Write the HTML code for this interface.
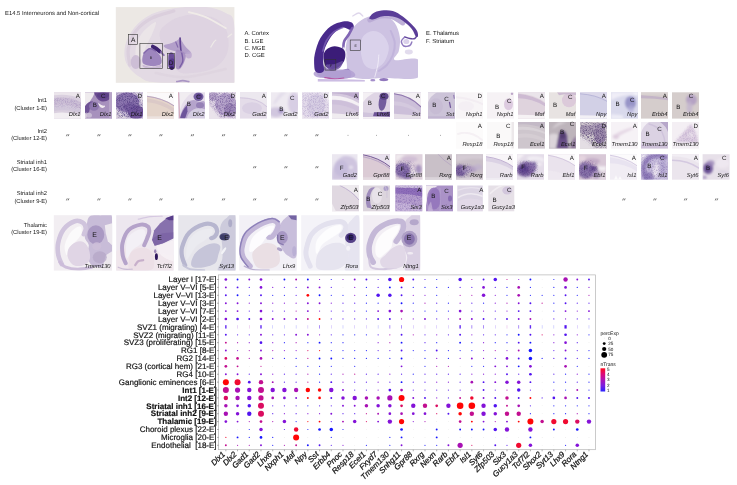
<!DOCTYPE html><html><head><meta charset="utf-8"><title>E14.5 Interneurons and Non-cortical</title>
<style>html,body{margin:0;padding:0;background:#fff;}svg{display:block;}text{font-family:"Liberation Sans",sans-serif;text-rendering:geometricPrecision;}</style></head><body>
<svg width="737" height="485" viewBox="0 0 737 485">
<defs>
<filter id="b1" x="-10%" y="-10%" width="120%" height="120%"><feGaussianBlur stdDeviation="0.7"/></filter>
<filter id="b2" x="-10%" y="-10%" width="120%" height="120%"><feGaussianBlur stdDeviation="1.2"/></filter>
<filter id="b3" x="-10%" y="-10%" width="120%" height="120%"><feGaussianBlur stdDeviation="2"/></filter>
<filter id="tb" x="0" y="0" width="100%" height="100%"><feGaussianBlur stdDeviation="0.25"/></filter>
<filter id="sp" x="0" y="0" width="100%" height="100%"><feGaussianBlur in="SourceGraphic" stdDeviation="1.6" result="sg"/><feTurbulence type="fractalNoise" baseFrequency="1.6" numOctaves="2" seed="3" result="n"/><feColorMatrix in="n" type="matrix" values="0 0 0 0 0  0 0 0 0 0  0 0 0 0 0  0 0 0 -3 1.75" result="m"/><feComposite in="sg" in2="m" operator="in"/><feGaussianBlur stdDeviation="0.45"/></filter>
<linearGradient id="cb" x1="0" y1="1" x2="0" y2="0"><stop offset="0" stop-color="#2a22ff"/><stop offset="0.25" stop-color="#7a1ee0"/><stop offset="0.5" stop-color="#ae12b4"/><stop offset="0.75" stop-color="#dc0878"/><stop offset="1" stop-color="#ff0a1e"/></linearGradient>
</defs>
<rect width="737" height="485" fill="#fff"/>
<g fill="#151515" opacity="0.999">
<text x="5" y="15.4" font-size="5.86">E14.5 Interneurons and Non-cortical</text>
<text x="244.4" y="35.4" font-size="5.9">A. Cortex</text>
<text x="244.4" y="42.5" font-size="5.9">B. LGE</text>
<text x="244.4" y="49.6" font-size="5.9">C. MGE</text>
<text x="244.4" y="56.7" font-size="5.9">D. CGE</text>
<text x="426" y="35.4" font-size="5.9">E. Thalamus</text>
<text x="426" y="42.5" font-size="5.9">F. Striatum</text>
<text x="47" y="102.1" font-size="5.76" text-anchor="end">Int1</text>
<text x="47" y="109.6" font-size="5.76" text-anchor="end">(Cluster 1-E)</text>
<text x="47" y="132.8" font-size="5.76" text-anchor="end">Int2</text>
<text x="47" y="140.1" font-size="5.76" text-anchor="end">(Cluster 12-E)</text>
<text x="47" y="164.2" font-size="5.76" text-anchor="end">Striatal inh1</text>
<text x="47" y="171.4" font-size="5.76" text-anchor="end">(Cluster 16-E)</text>
<text x="47" y="195.4" font-size="5.76" text-anchor="end">Striatal inh2</text>
<text x="47" y="202.7" font-size="5.76" text-anchor="end">(Cluster 9-E)</text>
<text x="47" y="226.9" font-size="5.76" text-anchor="end">Thalamic</text>
<text x="47" y="234.1" font-size="5.76" text-anchor="end">(Cluster 19-E)</text>
</g>
<clipPath id="c1"><rect x="0" y="0" width="118.6" height="75.7"/></clipPath>
<g transform="translate(115.8 7.1)">
<rect width="118.6" height="75.7" fill="#ece8e4"/>
<g clip-path="url(#c1)">
<g filter="url(#b1)">
<path d="M10.5,56.0 C8.1,50.7 8.1,44.0 9.5,38.0 C10.9,32.0 14.6,25.2 19.0,20.0 C23.4,14.8 29.2,10.2 36.0,7.0 C42.8,3.8 51.0,2.2 60.0,1.0 C69.0,-0.2 81.7,-0.8 90.0,0.0 C98.3,0.8 105.2,3.0 110.0,6.0 C114.8,9.0 117.2,6.4 118.6,18.0 C120.0,29.6 131.0,66.1 118.6,75.7 C106.2,85.3 59.8,76.7 44.0,75.7 C28.2,74.8 29.6,73.3 24.0,70.0 C18.4,66.7 12.9,61.3 10.5,56.0Z" fill="#e3dae4" opacity="1"/>
<path d="M14.0,58.0 C13.8,55.3 11.5,47.7 12.5,42.0 C13.5,36.3 16.1,29.2 20.0,24.0 C23.9,18.8 29.7,14.3 36.0,11.0 C42.3,7.7 54.3,5.2 58.0,4.0" fill="none" stroke="#d9cddc" stroke-width="3.2" stroke-linecap="round" stroke-linejoin="round" opacity="0.9"/>
<path d="M20.0,50.0 C19.2,47.3 19.7,40.3 21.0,36.0 C22.3,31.7 24.8,27.5 28.0,24.0 C31.2,20.5 38.7,14.3 40.0,15.0 C41.3,15.7 37.7,23.8 36.0,28.0 C34.3,32.2 31.7,36.0 30.0,40.0 C28.3,44.0 27.7,50.3 26.0,52.0 C24.3,53.7 20.8,52.7 20.0,50.0Z" fill="#ebe6e8" opacity="0.9"/>
<path d="M44.0,30.0 C42.7,22.3 47.3,19.7 52.0,16.0 C56.7,12.3 64.7,9.0 72.0,8.0 C79.3,7.0 89.7,7.7 96.0,10.0 C102.3,12.3 107.3,16.3 110.0,22.0 C112.7,27.7 113.7,37.7 112.0,44.0 C110.3,50.3 106.0,56.3 100.0,60.0 C94.0,63.7 82.7,65.7 76.0,66.0 C69.3,66.3 65.3,68.0 60.0,62.0 C54.7,56.0 45.3,37.7 44.0,30.0Z" fill="#ddd2e0" opacity="0.9"/>
<path d="M73.0,5.0 C75.8,5.8 83.8,7.3 90.0,10.0 C96.2,12.7 106.7,19.2 110.0,21.0" fill="none" stroke="#f0ece8" stroke-width="1.8" stroke-linecap="round" stroke-linejoin="round" opacity="0.95"/>
<path d="M95.0,40.0 C95.5,39.2 97.2,36.2 98.0,35.0 C98.8,33.8 99.7,33.3 100.0,33.0" fill="none" stroke="#f0ece8" stroke-width="1.2" stroke-linecap="round" stroke-linejoin="round" opacity="0.9"/>
<path d="M112.0,30.0 C112.7,29.5 115.3,27.5 116.0,27.0" fill="none" stroke="#f0ece8" stroke-width="1.2" stroke-linecap="round" stroke-linejoin="round" opacity="0.9"/>
<ellipse cx="20" cy="55" rx="5" ry="7" fill="#c9b8d4" opacity="0.85"/>
<path d="M27.0,56.0 C25.7,53.8 26.8,48.5 28.0,46.0 C29.2,43.5 32.0,41.3 34.0,41.0 C36.0,40.7 38.2,42.5 40.0,44.0 C41.8,45.5 44.2,47.8 45.0,50.0 C45.8,52.2 46.5,55.5 45.0,57.0 C43.5,58.5 39.0,59.2 36.0,59.0 C33.0,58.8 28.3,58.2 27.0,56.0Z" fill="#9a82bc" opacity="0.95"/>
<path d="M28.0,46.0 C29.0,45.2 32.0,41.8 34.0,41.5 C36.0,41.2 39.0,43.6 40.0,44.0" fill="none" stroke="#7a5ea6" stroke-width="1.4" stroke-linecap="round" stroke-linejoin="round" opacity="0.8"/>
<path d="M27.0,58.0 C28.0,57.8 33.0,60.0 36.0,60.0 C39.0,60.0 43.7,57.8 45.0,58.0 C46.3,58.2 46.5,60.5 44.0,61.0 C41.5,61.5 32.8,61.5 30.0,61.0 C27.2,60.5 26.0,58.2 27.0,58.0Z" fill="#c4b2d2" opacity="0.8"/>
<path d="M37.0,39.5 C37.6,39.8 39.3,40.7 40.5,41.5 C41.7,42.3 43.4,44.0 44.0,44.5" fill="none" stroke="#3c2070" stroke-width="3.8" stroke-linecap="round" stroke-linejoin="round" opacity="1"/>
<path d="M45.0,45.0 C45.5,45.5 47.5,47.5 48.0,48.0" fill="none" stroke="#8468ac" stroke-width="2.0" stroke-linecap="round" stroke-linejoin="round" opacity="0.9"/>
<path d="M48.0,38.5 C48.7,37.5 53.7,36.9 56.0,36.0 C58.3,35.1 60.6,33.9 62.0,33.0 C63.4,32.1 63.6,30.3 64.3,30.5 C65.0,30.7 65.0,32.4 66.0,34.0 C67.0,35.6 68.5,38.1 70.0,40.0 C71.5,41.9 75.0,44.3 75.0,45.5 C75.0,46.7 72.2,47.1 70.0,47.0 C67.8,46.9 65.0,45.8 62.0,45.0 C59.0,44.2 54.3,43.1 52.0,42.0 C49.7,40.9 47.3,39.5 48.0,38.5Z" fill="#b09cc8" opacity="0.95"/>
<path d="M64.3,31.0 C64.3,32.2 64.4,35.7 64.6,38.0 C64.8,40.3 65.2,43.8 65.3,45.0" fill="none" stroke="#5a3c8c" stroke-width="1.6" stroke-linecap="round" stroke-linejoin="round" opacity="0.95"/>
<path d="M60.0,35.0 C60.3,35.8 61.7,39.2 62.0,40.0" fill="none" stroke="#7a5ea6" stroke-width="1.2" stroke-linecap="round" stroke-linejoin="round" opacity="0.8"/>
<path d="M60.0,44.0 C61.0,41.3 64.3,43.3 66.0,44.0 C67.7,44.7 69.7,46.0 70.0,48.0 C70.3,50.0 69.0,53.7 68.0,56.0 C67.0,58.3 65.3,61.3 64.0,62.0 C62.7,62.7 60.7,63.0 60.0,60.0 C59.3,57.0 59.0,46.7 60.0,44.0Z" fill="#a48cc0" opacity="0.9"/>
<path d="M66.0,46.0 C66.2,47.3 67.3,51.7 67.0,54.0 C66.7,56.3 64.5,59.0 64.0,60.0" fill="none" stroke="#6e52a0" stroke-width="1.3" stroke-linecap="round" stroke-linejoin="round" opacity="0.85"/>
<ellipse cx="73" cy="48" rx="3" ry="3.5" fill="#bca8d0" opacity="0.8"/>
<path d="M53.0,47.0 C53.8,44.8 57.1,44.8 58.0,47.0 C58.9,49.2 58.8,57.4 58.5,60.0 C58.2,62.6 56.9,62.5 56.0,62.5 C55.1,62.5 53.5,62.6 53.0,60.0 C52.5,57.4 52.2,49.2 53.0,47.0Z" fill="#6a4e98" opacity="1"/>
<path d="M53.5,53.0 C54.3,51.7 57.2,50.8 58.0,52.0 C58.8,53.2 58.8,58.2 58.5,60.0 C58.2,61.8 56.9,62.5 56.0,62.5 C55.1,62.5 53.4,61.6 53.0,60.0 C52.6,58.4 52.7,54.3 53.5,53.0Z" fill="#54368a" opacity="0.9"/>
<ellipse cx="56" cy="61" rx="2" ry="1.8" fill="#34186a" opacity="1"/>
<path d="M61.0,74.5 C62.0,74.3 65.0,73.5 67.0,73.5 C69.0,73.5 72.0,74.3 73.0,74.5" fill="none" stroke="#9a82ba" stroke-width="1.6" stroke-linecap="round" stroke-linejoin="round" opacity="0.8"/>
<path d="M40.0,66.0 C45.0,66.7 58.3,70.7 70.0,70.0 C81.7,69.3 103.3,63.3 110.0,62.0" fill="none" stroke="#dcd2de" stroke-width="2.5" stroke-linecap="round" stroke-linejoin="round" opacity="0.6"/>
</g>
</g>
<rect x="12.6" y="27.2" width="9.2" height="10.2" fill="none" stroke="#333" stroke-width="0.6"/>
<rect x="24.1" y="36.2" width="22.5" height="25.0" fill="none" stroke="#333" stroke-width="0.6"/>
<rect x="51.5" y="46.2" width="7.2" height="15.0" fill="none" stroke="#333" stroke-width="0.6"/>
<g fill="#151515" opacity="0.999">
<text x="17.3" y="34.7" font-size="6.6" text-anchor="middle">A</text>
<text x="35.2" y="52.4" font-size="3.6" text-anchor="middle">B</text>
<text x="55.2" y="58.0" font-size="6.4" text-anchor="middle">D</text>
</g>
</g>
<clipPath id="c2"><rect x="0" y="0" width="105.2" height="74.8"/></clipPath>
<g transform="translate(312.8 7.0)">
<rect width="105.2" height="74.8" fill="#ffffff"/>
<g clip-path="url(#c2)">
<g filter="url(#b1)">
<path d="M33.0,40.0 C33.5,35.0 34.8,30.2 37.0,26.0 C39.2,21.8 42.5,17.8 46.0,15.0 C49.5,12.2 53.7,10.0 58.0,9.0 C62.3,8.0 68.0,7.8 72.0,9.0 C76.0,10.2 79.5,12.5 82.0,16.0 C84.5,19.5 86.3,25.3 87.0,30.0 C87.7,34.7 86.8,40.2 86.0,44.0 C85.2,47.8 78.8,51.6 82.0,53.0 C85.2,54.4 101.3,49.6 105.2,52.5 C109.1,55.4 111.1,67.4 105.2,70.5 C99.3,73.6 79.2,70.8 70.0,71.0 C60.8,71.2 55.7,72.5 50.0,72.0 C44.3,71.5 38.7,70.7 36.0,68.0 C33.3,65.3 34.5,60.7 34.0,56.0 C33.5,51.3 32.5,45.0 33.0,40.0Z" fill="#cdc2e2" opacity="1"/>
<path d="M50.0,30.0 C52.0,26.7 56.7,24.3 60.0,24.0 C63.3,23.7 67.3,25.3 70.0,28.0 C72.7,30.7 75.7,35.7 76.0,40.0 C76.3,44.3 74.3,50.3 72.0,54.0 C69.7,57.7 65.3,61.3 62.0,62.0 C58.7,62.7 54.3,61.0 52.0,58.0 C49.7,55.0 48.3,48.7 48.0,44.0 C47.7,39.3 48.0,33.3 50.0,30.0Z" fill="#dcd4ec" opacity="0.9"/>
<path d="M66.0,48.0 C65.8,49.7 65.7,54.3 65.0,58.0 C64.3,61.7 62.5,68.0 62.0,70.0" fill="none" stroke="#f4f0fa" stroke-width="1.0" stroke-linecap="round" stroke-linejoin="round" opacity="0.8"/>
<path d="M78.0,24.0 C78.7,26.0 81.7,32.0 82.0,36.0 C82.3,40.0 81.3,44.3 80.0,48.0 C78.7,51.7 76.3,55.3 74.0,58.0 C71.7,60.7 67.3,63.0 66.0,64.0" fill="none" stroke="#bcaed8" stroke-width="2.0" stroke-linecap="round" stroke-linejoin="round" opacity="0.7"/>
<path d="M57.0,13.0 C58.8,12.3 64.2,9.5 68.0,9.0 C71.8,8.5 76.3,8.8 80.0,10.0 C83.7,11.2 88.3,15.0 90.0,16.0" fill="none" stroke="#b8a8d4" stroke-width="5" stroke-linecap="round" stroke-linejoin="round" opacity="0.9"/>
<path d="M2.0,50.0 C1.3,52.0 3.0,58.7 4.0,62.0 C5.0,65.3 2.7,68.5 8.0,70.0 C13.3,71.5 31.3,72.3 36.0,71.0 C40.7,69.7 38.0,63.2 36.0,62.0 C34.0,60.8 28.0,64.3 24.0,64.0 C20.0,63.7 14.7,62.3 12.0,60.0 C9.3,57.7 9.7,51.7 8.0,50.0 C6.3,48.3 2.7,48.0 2.0,50.0Z" fill="#9a82c4" opacity="0.95"/>
<path d="M4.0,64.0 C9.0,62.8 30.0,61.9 36.0,63.0 C42.0,64.1 45.0,69.2 40.0,70.5 C35.0,71.8 12.0,71.6 6.0,70.5 C0.0,69.4 -1.0,65.2 4.0,64.0Z" fill="#b4a2d4" opacity="0.9"/>
<path d="M1.4,58.0 C1.3,55.2 1.0,51.5 2.0,47.0 C3.0,42.5 4.9,35.6 7.6,31.0 C10.3,26.4 14.2,21.9 18.0,19.2 C21.8,16.4 26.8,15.2 30.2,14.5 C33.6,13.8 36.6,14.5 38.4,15.3 C40.2,16.1 41.1,18.2 41.0,19.5 C40.9,20.8 39.4,22.7 37.6,22.9 C35.8,23.1 33.1,19.8 30.2,20.5 C27.3,21.2 23.1,24.1 20.3,27.0 C17.6,29.9 15.2,34.4 13.7,37.6 C12.1,40.8 11.5,42.9 11.0,46.0 C10.5,49.1 10.5,53.0 10.5,56.0 C10.5,59.0 11.8,62.3 11.0,64.0 C10.2,65.7 7.4,66.0 6.0,66.0 C4.6,66.0 3.3,65.3 2.5,64.0 C1.7,62.7 1.5,60.8 1.4,58.0Z" fill="#4a2c8c" opacity="1"/>
<path d="M10.0,44.0 C10.6,42.3 11.7,37.2 13.5,34.0 C15.3,30.8 18.2,27.2 21.0,25.0 C23.8,22.8 28.5,21.2 30.0,20.5" fill="none" stroke="#7a60b4" stroke-width="1.6" stroke-linecap="round" stroke-linejoin="round" opacity="0.8"/>
<path d="M39.5,21.0 C38.9,22.1 37.3,25.3 36.0,27.5 C34.7,29.7 32.4,31.9 31.5,34.0 C30.6,36.1 30.7,39.0 30.5,40.0" fill="none" stroke="#7a5eb0" stroke-width="2.6" stroke-linecap="round" stroke-linejoin="round" opacity="0.95"/>
<path d="M30.5,40.0 C31.0,40.8 32.9,43.3 33.5,45.0 C34.1,46.7 33.9,49.2 34.0,50.0" fill="none" stroke="#e8e2f2" stroke-width="1.0" stroke-linecap="round" stroke-linejoin="round" opacity="0.9"/>
<path d="M11.3,46.0 C12.0,44.1 13.2,42.6 15.0,41.5 C16.8,40.4 19.4,39.2 21.9,39.2 C24.4,39.2 28.2,40.2 30.0,41.6 C31.8,43.0 32.5,45.1 32.6,47.4 C32.7,49.7 32.0,53.1 30.4,55.5 C28.8,57.9 25.7,60.6 23.0,61.5 C20.3,62.4 16.0,62.0 14.0,60.6 C12.0,59.2 11.4,55.4 11.0,53.0 C10.6,50.6 10.6,47.9 11.3,46.0Z" fill="#3a1e78" opacity="1"/>
<path d="M13.0,58.0 C13.7,56.9 19.2,57.7 22.0,57.0 C24.8,56.3 29.2,53.3 30.0,54.0 C30.8,54.7 29.0,59.4 27.0,61.0 C25.0,62.6 20.3,64.0 18.0,63.5 C15.7,63.0 12.3,59.1 13.0,58.0Z" fill="#6a4ea0" opacity="0.85"/>
<path d="M56.5,11.5 C56.3,10.6 58.0,7.8 60.0,6.5 C62.0,5.2 65.3,4.0 68.6,3.6 C71.9,3.2 76.4,3.0 80.0,4.0 C83.6,5.0 87.0,7.4 90.0,9.5 C93.0,11.6 95.7,14.2 98.0,16.5 C100.3,18.8 102.8,21.4 104.0,23.5 C105.2,25.6 105.4,28.0 105.2,29.0 C105.0,30.0 104.0,30.7 103.0,29.5 C102.0,28.3 101.0,24.5 99.0,22.0 C97.0,19.5 93.8,16.5 91.0,14.5 C88.2,12.5 85.5,10.9 82.0,10.0 C78.5,9.1 73.5,8.8 70.0,9.2 C66.5,9.6 63.2,11.8 61.0,12.2 C58.8,12.6 56.7,12.4 56.5,11.5Z" fill="#5a3c98" opacity="1"/>
<path d="M104.5,28.0 C104.1,28.6 103.2,30.9 102.0,31.5 C100.8,32.1 98.7,31.8 97.0,31.5 C95.3,31.2 92.8,30.2 92.0,30.0" fill="none" stroke="#5a3c98" stroke-width="1.4" stroke-linecap="round" stroke-linejoin="round" opacity="0.95"/>
<path d="M92.0,30.0 C91.4,30.7 88.8,32.5 88.6,34.0 C88.4,35.5 89.6,38.2 91.0,39.0 C92.4,39.8 95.7,39.2 97.0,38.5 C98.3,37.8 98.7,35.6 99.0,35.0" fill="none" stroke="#8a74bc" stroke-width="1.5" stroke-linecap="round" stroke-linejoin="round" opacity="0.95"/>
<ellipse cx="93.5" cy="34.5" rx="3" ry="2.6" fill="#d6cce8" opacity="0.9"/>
<ellipse cx="96" cy="45" rx="4" ry="2.4" fill="#ddd6ea" opacity="0.85"/>
<path d="M50.0,9.0 C49.3,8.5 47.7,6.0 46.0,6.0 C44.3,6.0 41.0,8.5 40.0,9.0" fill="none" stroke="#d6cce6" stroke-width="1.3" stroke-linecap="round" stroke-linejoin="round" opacity="0.8"/>
<path d="M12.0,70.7 C13.7,70.9 18.8,71.8 22.0,71.8 C25.2,71.8 29.5,71.1 31.0,71.0" fill="none" stroke="#b450a0" stroke-width="1.2" stroke-linecap="round" stroke-linejoin="round" opacity="0.95"/>
<path d="M5,72 L40,72.4 L52,73 L52,74.8 L5,74.8Z" fill="#c6b6e0" opacity="0.9"/>
<ellipse cx="71" cy="72.6" rx="4.5" ry="1.6" fill="#8a70b8" opacity="0.95"/>
<ellipse cx="60" cy="73.2" rx="2.5" ry="1.2" fill="#9a82c4" opacity="0.9"/>
</g>
</g>
<rect x="37.4" y="33.0" width="10.4" height="10.3" fill="none" stroke="#333" stroke-width="0.6"/>
<rect x="12.2" y="52.5" width="10.8" height="10.6" fill="none" stroke="#333" stroke-width="0.6"/>
<g fill="#151515" opacity="0.999">
<text x="42.8" y="40.2" font-size="3.6" text-anchor="middle">E</text>
<text x="18.4" y="59.8" font-size="3.6" text-anchor="middle">F</text>
</g>
</g>
<clipPath id="c3"><rect x="0" y="0" width="27" height="26.3"/></clipPath>
<g transform="translate(54 92.3)">
<rect width="27" height="26.3" fill="#dad0df"/>
<g clip-path="url(#c3)">
<g filter="url(#b1)">
<path d="M0,0 L27,0 L27,6 Q14,1 0,3 Z" fill="#ebe5eb" opacity="1"/>
<path d="M0,6 Q14,3 27,10 L27,17 Q14,10 0,13 Z" fill="#cabbd4" opacity="0.9"/>
<path d="M0,13 Q14,10 27,17 L27,21 Q12,16 0,19Z" fill="#d2c6da" opacity="0.9"/>
<path d="M0,21 Q10,19 20,22 L27,23 L27,27 L0,27Z" fill="#f2eef2" opacity="1"/>
</g>
<g filter="url(#sp)">
<path d="M0,6 Q14,3 27,10 L27,19 Q14,12 0,15 Z" fill="#785aa1" opacity="0.28"/>
</g>
</g>
<g fill="#151515" opacity="0.999">
<text x="23.9" y="6.0" font-size="6.2" text-anchor="middle">A</text>
<text x="26.4" y="23.7" font-size="5.8" font-style="italic" text-anchor="end">Dlx1</text>
</g>
</g>
<clipPath id="c4"><rect x="0" y="0" width="27" height="26.3"/></clipPath>
<g transform="translate(85 92.3)">
<rect width="27" height="26.3" fill="#a791bd"/>
<g clip-path="url(#c4)">
<g filter="url(#b1)">
<path d="M0,0 L10,0 Q8,5 5,9 L0,14 Z" fill="#efebee" opacity="1"/>
<path d="M9,0 Q11,7 16,9 Q22,10 25,6 L25,0Z" fill="#684a8f" opacity="1"/>
<ellipse cx="18" cy="3" rx="6" ry="3" fill="#5a3e85" opacity="0.9"/>
<path d="M0,14 Q3,9 8,9 Q5,14 4,20 L0,22Z" fill="#6c5095" opacity="0.95"/>
<ellipse cx="9" cy="14" rx="5" ry="4.5" fill="#8c74ac" opacity="0.9"/>
<path d="M13,10.5 Q16,13 18.5,13.5 Q20,12.5 20,14.5 Q18,16.5 15.5,15 Q13.5,13 13,10.5Z" fill="#f2ecf0" opacity="1"/>
<rect x="24" y="0" width="3" height="26.3" fill="#bba9cb" opacity="0.8"/>
<ellipse cx="4" cy="23" rx="3" ry="2.5" fill="#ccbfd6" opacity="0.9"/>
<path d="M0,21 L1.5,20 L1.5,26.3 L0,26.3Z" fill="#e7e0e7" opacity="0.8"/>
</g>
</g>
<g fill="#151515" opacity="0.999">
<text x="18.3" y="6.2" font-size="6.2" text-anchor="middle">C</text>
<text x="9.7" y="15.0" font-size="6.2" text-anchor="middle">B</text>
<text x="26.4" y="23.7" font-size="5.8" font-style="italic" text-anchor="end">Dlx1</text>
</g>
</g>
<clipPath id="c5"><rect x="0" y="0" width="27" height="26.3"/></clipPath>
<g transform="translate(116 92.3)">
<rect width="27" height="26.3" fill="#c3b5d3"/>
<g clip-path="url(#c5)">
<g filter="url(#b1)">
<ellipse cx="11" cy="10" rx="12" ry="10" fill="#836aa9" opacity="0.85"/>
<ellipse cx="20" cy="20" rx="8" ry="7" fill="#694e95" opacity="0.9"/>
<ellipse cx="14" cy="15" rx="6" ry="5" fill="#73589d" opacity="0.7"/>
<path d="M19,0 L27,0 L27,15 Q25,6 19,0Z" fill="#e1d9e5" opacity="1"/>
<path d="M0,17 Q5,22 13,26.3 L0,26.3Z" fill="#dcd3df" opacity="1"/>
</g>
<g filter="url(#sp)">
<rect x="0" y="0" width="27" height="26.3" fill="#3d2670" opacity="0.55"/>
</g>
</g>
<g fill="#151515" opacity="0.999">
<text x="23.8" y="6.0" font-size="6.2" text-anchor="middle">D</text>
<text x="26.4" y="23.7" font-size="5.8" font-style="italic" text-anchor="end">Dlx1</text>
</g>
</g>
<clipPath id="c6"><rect x="0" y="0" width="27" height="26.3"/></clipPath>
<g transform="translate(147 92.3)">
<rect width="27" height="26.3" fill="#e4d4ca"/>
<g clip-path="url(#c6)">
<g filter="url(#b1)">
<path d="M0,0 L27,0 L27,13 Q15,5 0,3.5 Z" fill="#fbf9fa" opacity="1"/>
<path d="M0,4 Q15,5.5 27,13.5" fill="none" stroke="#b39dc1" stroke-width="1.0" stroke-linecap="round" stroke-linejoin="round" opacity="0.9"/>
<path d="M0,6 Q15,8 27,16 L27,20 Q14,11 0,10Z" fill="#dac7c5" opacity="0.8"/>
<path d="M0,24 L27,24 L27,27 L0,27Z" fill="#eee6e5" opacity="0.8"/>
</g>
</g>
<g fill="#151515" opacity="0.999">
<text x="23.9" y="6.0" font-size="6.2" text-anchor="middle">A</text>
<text x="26.4" y="23.7" font-size="5.8" font-style="italic" text-anchor="end">Dlx2</text>
</g>
</g>
<clipPath id="c7"><rect x="0" y="0" width="27" height="26.3"/></clipPath>
<g transform="translate(178 92.3)">
<rect width="27" height="26.3" fill="#e6deeb"/>
<g clip-path="url(#c7)">
<g filter="url(#b1)">
<path d="M9,26.3 Q10,20 16,17 Q20,15 27,17 L27,26.3Z" fill="#d5cde2" opacity="1"/>
<path d="M1.5,26.3 Q4,16 9,11 Q13,7 17,8 Q21,10 24,9 Q27,8 27,12 L27,17 Q20,15 16,17 Q10,20 9,26.3Z" fill="#af9dc9" opacity="0.9"/>
<ellipse cx="20.5" cy="4.5" rx="5" ry="4.2" fill="#6d569c" opacity="0.95"/>
<ellipse cx="21" cy="4" rx="3" ry="2.5" fill="#533a82" opacity="0.85"/>
<path d="M2,26 Q4,18 9,13 L9.5,19 Q8,24 7,26.3Z" fill="#695098" opacity="0.95"/>
<ellipse cx="22" cy="13" rx="4" ry="3" fill="#8f78b2" opacity="0.8"/>
<path d="M2,0 L15,0 Q8,4 4,12 L2,18Z" fill="#f2eef2" opacity="0.9"/>
<path d="M0.6,0 L1.6,26" fill="none" stroke="#d09eb3" stroke-width="1.0" stroke-linecap="round" stroke-linejoin="round" opacity="0.9"/>
</g>
</g>
<g fill="#151515" opacity="0.999">
<text x="20.6" y="6.3999999999999995" font-size="6.2" text-anchor="middle">C</text>
<text x="10.7" y="14.0" font-size="6.2" text-anchor="middle">B</text>
<text x="26.4" y="23.7" font-size="5.8" font-style="italic" text-anchor="end">Dlx2</text>
</g>
</g>
<clipPath id="c8"><rect x="0" y="0" width="27" height="26.3"/></clipPath>
<g transform="translate(209 92.3)">
<rect width="27" height="26.3" fill="#dcd1e2"/>
<g clip-path="url(#c8)">
<g filter="url(#b1)">
<ellipse cx="17" cy="12" rx="11" ry="11" fill="#a793c1" opacity="0.7"/>
<ellipse cx="21" cy="18" rx="6" ry="7" fill="#8d76ac" opacity="0.6"/>
<path d="M0,12 Q6,20 12,26.3 L0,26.3Z" fill="#eae3eb" opacity="1"/>
<path d="M22,0 L27,0 L27,10 Q26,4 22,0Z" fill="#ede6ed" opacity="1"/>
<ellipse cx="4" cy="4" rx="5" ry="4" fill="#a793bf" opacity="0.7"/>
</g>
<g filter="url(#sp)">
<path d="M0,0 L27,0 L27,26.3 L12,26.3 Q6,18 0,10Z" fill="#492e7c" opacity="0.45"/>
</g>
</g>
<g fill="#151515" opacity="0.999">
<text x="23.8" y="6.0" font-size="6.2" text-anchor="middle">D</text>
<text x="26.4" y="23.7" font-size="5.8" font-style="italic" text-anchor="end">Dlx2</text>
</g>
</g>
<clipPath id="c9"><rect x="0" y="0" width="27" height="26.3"/></clipPath>
<g transform="translate(240 92.3)">
<rect width="27" height="26.3" fill="#e4dce9"/>
<g clip-path="url(#c9)">
<g filter="url(#b1)">
<path d="M0,0 L27,0 L27,14 Q18,5 0,5 Z" fill="#ece8ef" opacity="1"/>
<path d="M0,5.5 Q18,5.5 27,14.5" fill="none" stroke="#ccbfd9" stroke-width="0.8" stroke-linecap="round" stroke-linejoin="round" opacity="0.9"/>
<ellipse cx="12" cy="16" rx="10" ry="6" fill="#d7cde2" opacity="0.8"/>
</g>
</g>
<g fill="#151515" opacity="0.999">
<text x="23.9" y="6.0" font-size="6.2" text-anchor="middle">A</text>
<text x="26.4" y="23.7" font-size="5.8" font-style="italic" text-anchor="end">Gad2</text>
</g>
</g>
<clipPath id="c10"><rect x="0" y="0" width="27" height="26.3"/></clipPath>
<g transform="translate(271 92.3)">
<rect width="27" height="26.3" fill="#eeeaf1"/>
<g clip-path="url(#c10)">
<g filter="url(#b2)">
<ellipse cx="23" cy="11" rx="6" ry="11" fill="#d5cbe2" opacity="0.9"/>
<ellipse cx="5" cy="20" rx="8" ry="5" fill="#cec3dd" opacity="0.9"/>
<ellipse cx="10" cy="18.5" rx="2.5" ry="2.5" fill="#9988be" opacity="0.8"/>
<path d="M4,12 Q10,4 16,0 L10,0 Q4,6 2,12Z" fill="#e0d9e8" opacity="0.8"/>
</g>
</g>
<g fill="#151515" opacity="0.999">
<text x="21.3" y="7.6" font-size="6.2" text-anchor="middle">C</text>
<text x="10.3" y="18.400000000000002" font-size="6.2" text-anchor="middle">B</text>
<text x="26.4" y="23.7" font-size="5.8" font-style="italic" text-anchor="end">Gad2</text>
</g>
</g>
<clipPath id="c11"><rect x="0" y="0" width="27" height="26.3"/></clipPath>
<g transform="translate(302 92.3)">
<rect width="27" height="26.3" fill="#e4dceb"/>
<g clip-path="url(#c11)">
<g filter="url(#b1)">
<ellipse cx="14" cy="13" rx="9" ry="11" fill="#d1c7df" opacity="0.7"/>
<path d="M20,0 L27,0 L27,14 Q26,5 20,0Z" fill="#f2eef4" opacity="1"/>
<path d="M0,22 L10,26.3 L0,26.3Z" fill="#ece6ef" opacity="1"/>
</g>
<g filter="url(#sp)">
<rect x="0" y="0" width="27" height="26.3" fill="#7966a9" opacity="0.28"/>
</g>
</g>
<g fill="#151515" opacity="0.999">
<text x="23.8" y="6.0" font-size="6.2" text-anchor="middle">D</text>
<text x="26.4" y="23.7" font-size="5.8" font-style="italic" text-anchor="end">Gad2</text>
</g>
</g>
<clipPath id="c12"><rect x="0" y="0" width="27" height="26.3"/></clipPath>
<g transform="translate(332 92.3)">
<rect width="27" height="26.3" fill="#d5c9de"/>
<g clip-path="url(#c12)">
<g filter="url(#b1)">
<path d="M0,0 L27,0 L27,8 Q16,1 0,1 Z" fill="#bfadcf" opacity="1"/>
<path d="M0,3.5 Q14,3 27,11 L27,14 Q14,6.5 0,7.5Z" fill="#f4f0f4" opacity="1"/>
<path d="M0,8 Q14,7 27,15 L27,20 Q14,12 0,12Z" fill="#ccbdd9" opacity="0.8"/>
<path d="M0,21 L27,23 L27,27 L0,27Z" fill="#f0ecf0" opacity="1"/>
</g>
</g>
<g fill="#151515" opacity="0.999">
<text x="23.9" y="6.0" font-size="6.2" text-anchor="middle">A</text>
<text x="26.4" y="23.7" font-size="5.8" font-style="italic" text-anchor="end">Lhx6</text>
</g>
</g>
<clipPath id="c13"><rect x="0" y="0" width="27" height="26.3"/></clipPath>
<g transform="translate(363 92.3)">
<rect width="27" height="26.3" fill="#dfd5e5"/>
<g clip-path="url(#c13)">
<g filter="url(#b1)">
<path d="M0,0 L12,0 Q4,4 0,10Z" fill="#f4f0f4" opacity="1"/>
<ellipse cx="19.5" cy="10" rx="3.8" ry="8.5" fill="#6d5699" opacity="0.95" transform="rotate(8 19.5 10)"/>
<ellipse cx="21" cy="4" rx="4.5" ry="3.5" fill="#573e84" opacity="0.95"/>
<path d="M11,20 L27,19.5 L27,24.5 L10,24 Z" fill="#694e95" opacity="0.95"/>
<path d="M0,20 L10,21 L10,24.5 L0,25Z" fill="#ccbfd9" opacity="0.8"/>
<rect x="0" y="24.7" width="27" height="2" fill="#f4f0f4" opacity="1"/>
</g>
</g>
<g fill="#151515" opacity="0.999">
<text x="20.3" y="5.8" font-size="6.2" text-anchor="middle">C</text>
<text x="6.9" y="12.700000000000001" font-size="6.2" text-anchor="middle">B</text>
<text x="26.4" y="23.7" font-size="5.8" font-style="italic" text-anchor="end">Lhx6</text>
</g>
</g>
<clipPath id="c14"><rect x="0" y="0" width="27" height="26.3"/></clipPath>
<g transform="translate(394 92.3)">
<rect width="27" height="26.3" fill="#ccbfd9"/>
<g clip-path="url(#c14)">
<g filter="url(#b1)">
<path d="M0,0 L27,0 L27,14 Q16,3 0,1 Z" fill="#f2eef2" opacity="1"/>
<path d="M0,1.5 Q16,3.5 27,14.5" fill="none" stroke="#886eaa" stroke-width="1.1" stroke-linecap="round" stroke-linejoin="round" opacity="0.9"/>
<path d="M0,9 Q14,9 27,20 L27,23 Q14,13 0,13Z" fill="#d7cde0" opacity="0.7"/>
<path d="M0,21.5 L27,23.5 L27,27 L0,27Z" fill="#e5dee7" opacity="1"/>
</g>
</g>
<g fill="#151515" opacity="0.999">
<text x="23.9" y="6.0" font-size="6.2" text-anchor="middle">A</text>
<text x="26.4" y="23.7" font-size="5.8" font-style="italic" text-anchor="end">Sst</text>
</g>
</g>
<clipPath id="c15"><rect x="0" y="0" width="27" height="26.3"/></clipPath>
<g transform="translate(428 92.3)">
<rect width="27" height="26.3" fill="#ccc3d8"/>
<g clip-path="url(#c15)">
<g filter="url(#b1)">
<path d="M0,0 L9,0 Q2,4 0,10Z" fill="#e8e2eb" opacity="1"/>
<ellipse cx="8" cy="14" rx="7" ry="8" fill="#c5b9d3" opacity="0.7"/>
<path d="M21.5,10 L22.5,15" fill="none" stroke="#694e95" stroke-width="1.3" stroke-linecap="round" stroke-linejoin="round" opacity="0.9"/>
<path d="M25.8,3 L26.2,6" fill="none" stroke="#785ea1" stroke-width="1.0" stroke-linecap="round" stroke-linejoin="round" opacity="0.8"/>
<rect x="0" y="24" width="27" height="3" fill="#bfb1cf" opacity="0.8"/>
</g>
</g>
<g fill="#151515" opacity="0.999">
<text x="18.4" y="9.200000000000001" font-size="6.2" text-anchor="middle">C</text>
<text x="6.4" y="15.100000000000001" font-size="6.2" text-anchor="middle">B</text>
<text x="26.4" y="23.7" font-size="5.8" font-style="italic" text-anchor="end">Sst</text>
</g>
</g>
<clipPath id="c16"><rect x="0" y="0" width="27" height="26.3"/></clipPath>
<g transform="translate(456 92.3)">
<rect width="27" height="26.3" fill="#f8f5f7"/>
<g clip-path="url(#c16)">
<g filter="url(#b1)">
<path d="M0,5 Q14,6 27,12" fill="none" stroke="#f2ecf2" stroke-width="2.0" stroke-linecap="round" stroke-linejoin="round" opacity="0.9"/>
<ellipse cx="10" cy="14" rx="8" ry="5" fill="#f4eef4" opacity="0.9"/>
</g>
</g>
<g fill="#151515" opacity="0.999">
<text x="23.8" y="6.0" font-size="6.2" text-anchor="middle">D</text>
<text x="26.4" y="23.7" font-size="5.8" font-style="italic" text-anchor="end">Nxph1</text>
</g>
</g>
<clipPath id="c17"><rect x="0" y="0" width="27" height="26.3"/></clipPath>
<g transform="translate(487 92.3)">
<rect width="27" height="26.3" fill="#f6f2f5"/>
<g clip-path="url(#c17)">
<g filter="url(#b1)">
<ellipse cx="21.5" cy="12" rx="4.5" ry="6" fill="#dac7de" opacity="0.9"/>
<ellipse cx="25" cy="1.5" rx="1.2" ry="1.2" fill="#b69ec4" opacity="0.9"/>
</g>
</g>
<g fill="#151515" opacity="0.999">
<text x="22.3" y="10.8" font-size="6.2" text-anchor="middle">C</text>
<text x="10.0" y="16.7" font-size="6.2" text-anchor="middle">B</text>
<text x="26.4" y="23.7" font-size="5.8" font-style="italic" text-anchor="end">Nxph1</text>
</g>
</g>
<clipPath id="c18"><rect x="0" y="0" width="27" height="26.3"/></clipPath>
<g transform="translate(518 92.3)">
<rect width="27" height="26.3" fill="#dfd3dd"/>
<g clip-path="url(#c18)">
<g filter="url(#b1)">
<path d="M0,0 L27,0 L27,10 Q16,2 0,1 Z" fill="#eae4ea" opacity="1"/>
<path d="M0,1.5 Q16,3 27,11 L27,14 Q14,6 0,6Z" fill="#cbb7d0" opacity="0.9"/>
<path d="M0,22.5 L20,23 L27,22 L27,27 L0,27Z" fill="#f6f2f4" opacity="1"/>
</g>
</g>
<g fill="#151515" opacity="0.999">
<text x="23.9" y="6.0" font-size="6.2" text-anchor="middle">A</text>
<text x="26.4" y="23.7" font-size="5.8" font-style="italic" text-anchor="end">Maf</text>
</g>
</g>
<clipPath id="c19"><rect x="0" y="0" width="27" height="26.3"/></clipPath>
<g transform="translate(549 92.3)">
<rect width="27" height="26.3" fill="#e8e3e2"/>
<g clip-path="url(#c19)">
<g filter="url(#b1)">
<ellipse cx="20" cy="8" rx="7" ry="7" fill="#dac7d9" opacity="0.9"/>
<path d="M8,0 L27,0 L27,3 Q18,1 10,3Z" fill="#c6b1cd" opacity="0.8"/>
</g>
</g>
<g fill="#151515" opacity="0.999">
<text x="21.3" y="6.7" font-size="6.2" text-anchor="middle">C</text>
<text x="6.0" y="14.700000000000001" font-size="6.2" text-anchor="middle">B</text>
<text x="26.4" y="23.7" font-size="5.8" font-style="italic" text-anchor="end">Maf</text>
</g>
</g>
<clipPath id="c20"><rect x="0" y="0" width="27" height="26.3"/></clipPath>
<g transform="translate(580 92.3)">
<rect width="27" height="26.3" fill="#d2d0e6"/>
<g clip-path="url(#c20)">
<g filter="url(#b1)">
<path d="M0,0 L27,0 L27,8 Q16,2 0,1 Z" fill="#dcd8ea" opacity="1"/>
<path d="M0,1.5 Q16,2.5 27,9" fill="none" stroke="#b0add3" stroke-width="0.9" stroke-linecap="round" stroke-linejoin="round" opacity="0.8"/>
<path d="M0,23 L27,23.5 L27,27 L0,27Z" fill="#f2f0f5" opacity="1"/>
</g>
</g>
<g fill="#151515" opacity="0.999">
<text x="23.9" y="6.0" font-size="6.2" text-anchor="middle">A</text>
<text x="26.4" y="23.7" font-size="5.8" font-style="italic" text-anchor="end">Npy</text>
</g>
</g>
<clipPath id="c21"><rect x="0" y="0" width="27" height="26.3"/></clipPath>
<g transform="translate(611 92.3)">
<rect width="27" height="26.3" fill="#d9d9ec"/>
<g clip-path="url(#c21)">
<g filter="url(#b2)">
<path d="M0,0 L27,0 L27,3 Q14,1 0,8Z" fill="#f0eef7" opacity="1"/>
<ellipse cx="19.5" cy="10.5" rx="5.5" ry="6.5" fill="#8b87c1" opacity="0.85"/>
<ellipse cx="20" cy="17" rx="3" ry="4" fill="#b4b1d9" opacity="0.7"/>
<path d="M22,0 L27,0 L27,4Z" fill="#fafafc" opacity="1"/>
<path d="M0,22 L12,23 L12,27 L0,27Z" fill="#f0eef7" opacity="0.9"/>
</g>
</g>
<g fill="#151515" opacity="0.999">
<text x="21.3" y="9.4" font-size="6.2" text-anchor="middle">C</text>
<text x="6.6" y="13.700000000000001" font-size="6.2" text-anchor="middle">B</text>
<text x="26.4" y="23.7" font-size="5.8" font-style="italic" text-anchor="end">Npy</text>
</g>
</g>
<clipPath id="c22"><rect x="0" y="0" width="27" height="26.3"/></clipPath>
<g transform="translate(641 92.3)">
<rect width="27" height="26.3" fill="#d5cdcc"/>
<g clip-path="url(#c22)">
<g filter="url(#b1)">
<path d="M0,3 Q14,3.5 27,5.5 L27,8 Q14,6 0,6Z" fill="#c1b1c6" opacity="0.9"/>
<rect x="0" y="0" width="27" height="2.5" fill="#dbd4d3" opacity="0.8"/>
</g>
</g>
<g fill="#151515" opacity="0.999">
<text x="23.9" y="6.0" font-size="6.2" text-anchor="middle">A</text>
<text x="26.4" y="23.7" font-size="5.8" font-style="italic" text-anchor="end">Erbb4</text>
</g>
</g>
<clipPath id="c23"><rect x="0" y="0" width="27" height="26.3"/></clipPath>
<g transform="translate(672 92.3)">
<rect width="27" height="26.3" fill="#d5cdcc"/>
<g clip-path="url(#c23)">
<g filter="url(#b2)">
<ellipse cx="19.5" cy="7.5" rx="5.5" ry="5.5" fill="#af9bc2" opacity="0.85"/>
<ellipse cx="17.5" cy="15" rx="3" ry="6" fill="#c3b5ce" opacity="0.8"/>
</g>
</g>
<g fill="#151515" opacity="0.999">
<text x="19.0" y="6.1" font-size="6.2" text-anchor="middle">C</text>
<text x="6.4" y="16.8" font-size="6.2" text-anchor="middle">B</text>
<text x="26.4" y="23.7" font-size="5.8" font-style="italic" text-anchor="end">Erbb4</text>
</g>
</g>
<clipPath id="c24"><rect x="0" y="0" width="27" height="26.6"/></clipPath>
<g transform="translate(456 122.0)">
<rect width="27" height="26.6" fill="#fcfbfb"/>
<g clip-path="url(#c24)">
<g filter="url(#b1)">
<path d="M2,12 Q14,8 26,18" fill="none" stroke="#f4f0f3" stroke-width="2" stroke-linecap="round" stroke-linejoin="round" opacity="0.9"/>
</g>
</g>
<g fill="#151515" opacity="0.999">
<text x="23.9" y="6.0" font-size="6.2" text-anchor="middle">A</text>
<text x="26.4" y="24.0" font-size="5.8" font-style="italic" text-anchor="end">Resp18</text>
</g>
</g>
<clipPath id="c25"><rect x="0" y="0" width="27" height="26.6"/></clipPath>
<g transform="translate(487 122.0)">
<rect width="27" height="26.6" fill="#faf9f9"/>
<g clip-path="url(#c25)">
<g filter="url(#b1)">
<rect x="24.5" y="0" width="2.5" height="26.6" fill="#ebe7e9" opacity="0.9"/>
</g>
</g>
<g fill="#151515" opacity="0.999">
<text x="21.3" y="6.2" font-size="6.2" text-anchor="middle">C</text>
<text x="11.3" y="16.1" font-size="6.2" text-anchor="middle">B</text>
<text x="26.4" y="24.0" font-size="5.8" font-style="italic" text-anchor="end">Resp18</text>
</g>
</g>
<clipPath id="c26"><rect x="0" y="0" width="27" height="26.6"/></clipPath>
<g transform="translate(518 122.0)">
<rect width="27" height="26.6" fill="#cec6cd"/>
<g clip-path="url(#c26)">
<g filter="url(#b1)">
<path d="M0,0 L27,0 L27,7 Q14,1.5 0,2.5Z" fill="#c1b7c5" opacity="0.9"/>
<path d="M0,5 Q14,4 27,10 L27,12 Q14,7 0,8Z" fill="#dbd5da" opacity="0.8"/>
<path d="M0,12 Q14,10 27,17 L27,20 Q14,14 0,16Z" fill="#d7d0d6" opacity="0.7"/>
</g>
</g>
<g fill="#151515" opacity="0.999">
<text x="23.9" y="6.0" font-size="6.2" text-anchor="middle">A</text>
<text x="26.4" y="24.0" font-size="5.8" font-style="italic" text-anchor="end">Ecel1</text>
</g>
</g>
<clipPath id="c27"><rect x="0" y="0" width="27" height="26.6"/></clipPath>
<g transform="translate(549 122.0)">
<rect width="27" height="26.6" fill="#bdb4bb"/>
<g clip-path="url(#c27)">
<g filter="url(#b2)">
<path d="M0,13 Q5,10 9,13 L8,26.6 L0,26.6Z" fill="#dcd5da" opacity="1"/>
<path d="M5,6 Q12,2 18,0 L10,0 Q5,3 3,7Z" fill="#dbd5da" opacity="0.8"/>
<path d="M7,26.6 L9,16 Q10.5,9 13.5,8 Q17,9 18.5,16 L20,26.6Z" fill="#685086" opacity="1"/>
<ellipse cx="13.5" cy="13" rx="3.2" ry="4" fill="#50386d" opacity="0.85"/>
<path d="M21,26.6 Q23,18 27,14 L27,26.6Z" fill="#8b759a" opacity="1"/>
<path d="M18.5,15 L21.5,21 L21,26.6 L20,26.6Z" fill="#d5ced4" opacity="0.9"/>
</g>
</g>
<g fill="#151515" opacity="0.999">
<text x="22.9" y="4.4" font-size="6.2" text-anchor="middle">C</text>
<text x="13.0" y="12.4" font-size="6.2" text-anchor="middle">B</text>
<text x="26.4" y="24.0" font-size="5.8" font-style="italic" text-anchor="end">Ecel1</text>
</g>
</g>
<clipPath id="c28"><rect x="0" y="0" width="27" height="26.6"/></clipPath>
<g transform="translate(580 122.0)">
<rect width="27" height="26.6" fill="#cfc7ce"/>
<g clip-path="url(#c28)">
<g filter="url(#b1)">
<ellipse cx="7" cy="8" rx="8" ry="5" fill="#a292af" opacity="0.8"/>
<ellipse cx="20" cy="12" rx="6" ry="10" fill="#8f7ba2" opacity="0.8"/>
<ellipse cx="19" cy="4" rx="8" ry="3" fill="#a495b1" opacity="0.75"/>
<path d="M0,14 Q8,16 14,26.6 L0,26.6Z" fill="#e4dee4" opacity="1"/>
</g>
<g filter="url(#sp)">
<path d="M0,0 L27,0 L27,26.6 L14,26.6 Q10,18 0,15Z" fill="#3b2860" opacity="0.6"/>
</g>
</g>
<g fill="#151515" opacity="0.999">
<text x="23.8" y="6.0" font-size="6.2" text-anchor="middle">D</text>
<text x="26.4" y="24.0" font-size="5.8" font-style="italic" text-anchor="end">Ecel1</text>
</g>
</g>
<clipPath id="c29"><rect x="0" y="0" width="27" height="26.6"/></clipPath>
<g transform="translate(611 122.0)">
<rect width="27" height="26.6" fill="#f6f2f6"/>
<g clip-path="url(#c29)">
<g filter="url(#b2)">
<path d="M1,14 Q10,8 22,5 L22,7 Q12,11 4,17Z" fill="#e1d1e1" opacity="0.8"/>
<ellipse cx="5" cy="15" rx="3" ry="2" fill="#dac7da" opacity="0.7"/>
</g>
</g>
<g fill="#151515" opacity="0.999">
<text x="23.9" y="6.0" font-size="6.2" text-anchor="middle">A</text>
<text x="26.6" y="24.0" font-size="5.8" font-style="italic" text-anchor="end">Tmem130</text>
</g>
</g>
<clipPath id="c30"><rect x="0" y="0" width="27" height="26.6"/></clipPath>
<g transform="translate(641 122.0)">
<rect width="27" height="26.6" fill="#dbd2e3"/>
<g clip-path="url(#c30)">
<g filter="url(#b1)">
<path d="M0,0 L8,0 Q2,4 0,11Z" fill="#f2eef4" opacity="1"/>
<path d="M19,0 L27,0 L27,10 Q25,4 19,0Z" fill="#b7a7ca" opacity="1"/>
<path d="M8,2 Q16,4 21,10 Q24,16 24,22" fill="none" stroke="#ccbfd9" stroke-width="1.5" stroke-linecap="round" stroke-linejoin="round" opacity="0.8"/>
<rect x="0" y="22.5" width="27" height="4.1" fill="#cabdd6" opacity="0.8"/>
</g>
</g>
<g fill="#151515" opacity="0.999">
<text x="18.4" y="9.3" font-size="6.2" text-anchor="middle">C</text>
<text x="6.6" y="14.4" font-size="6.2" text-anchor="middle">B</text>
<text x="26.6" y="24.0" font-size="5.8" font-style="italic" text-anchor="end">Tmem130</text>
</g>
</g>
<clipPath id="c31"><rect x="0" y="0" width="27" height="26.6"/></clipPath>
<g transform="translate(672 122.0)">
<rect width="27" height="26.6" fill="#f4eff4"/>
<g clip-path="url(#c31)">
<g filter="url(#b2)">
<path d="M3,20 L19,2 Q25,10 26,21Z" fill="#d9c9de" opacity="0.9"/>
<ellipse cx="19" cy="13" rx="3" ry="3" fill="#eae1eb" opacity="0.8"/>
</g>
<g filter="url(#sp)">
<path d="M3,20 L19,2 Q25,10 26,21Z" fill="#987eb3" opacity="0.3"/>
</g>
</g>
<g fill="#151515" opacity="0.999">
<text x="23.8" y="6.0" font-size="6.2" text-anchor="middle">D</text>
<text x="26.6" y="24.0" font-size="5.8" font-style="italic" text-anchor="end">Tmem130</text>
</g>
</g>
<clipPath id="c32"><rect x="0" y="0" width="25.5" height="25.5"/></clipPath>
<g transform="translate(332 154.2)">
<rect width="25.5" height="25.5" fill="#ebe7f0"/>
<g clip-path="url(#c32)">
<g filter="url(#b2)">
<path d="M0,25.5 Q-1,8 11,2 Q24,0 26,12 Q27,20 24,25.5Z" fill="#cfc5df" opacity="1"/>
<ellipse cx="9" cy="14" rx="7" ry="8" fill="#c3b9d9" opacity="0.8"/>
<ellipse cx="19" cy="13" rx="2" ry="1.5" fill="#ece8f1" opacity="0.9"/>
</g>
</g>
<g fill="#151515" opacity="0.999">
<text x="9.6" y="16.0" font-size="6.2" text-anchor="middle">F</text>
<text x="24.9" y="22.9" font-size="5.8" font-style="italic" text-anchor="end">Gad2</text>
</g>
</g>
<clipPath id="c33"><rect x="0" y="0" width="27" height="25.5"/></clipPath>
<g transform="translate(363 154.2)">
<rect width="27" height="25.5" fill="#dbcbd5"/>
<g clip-path="url(#c33)">
<g filter="url(#b1)">
<path d="M0,0 L27,0 L27,12 Q16,3 0,0Z" fill="#e8e0ed" opacity="1"/>
<path d="M0,0.5 Q16,3.5 27,12.5" fill="none" stroke="#695095" stroke-width="1.0" stroke-linecap="round" stroke-linejoin="round" opacity="0.9"/>
<path d="M0,2.5 Q16,5.5 27,14.5" fill="none" stroke="#af9bc4" stroke-width="1.0" stroke-linecap="round" stroke-linejoin="round" opacity="0.8"/>
<rect x="0" y="23" width="27" height="2.5" fill="#e5dce2" opacity="0.8"/>
</g>
</g>
<g fill="#151515" opacity="0.999">
<text x="23.9" y="6.0" font-size="6.2" text-anchor="middle">A</text>
<text x="26.4" y="22.9" font-size="5.8" font-style="italic" text-anchor="end">Gpr88</text>
</g>
</g>
<clipPath id="c34"><rect x="0" y="0" width="27" height="25.5"/></clipPath>
<g transform="translate(395.5 154.2)">
<rect width="27" height="25.5" fill="#dfd2dd"/>
<g clip-path="url(#c34)">
<g filter="url(#b2)">
<path d="M0,0 L10,0 Q4,4 0,8Z" fill="#f0eaee" opacity="1"/>
<ellipse cx="7" cy="16" rx="8" ry="7.5" fill="#7960a1" opacity="0.85"/>
<ellipse cx="12" cy="21" rx="6" ry="4" fill="#7d64a3" opacity="0.8"/>
<ellipse cx="23" cy="15" rx="3" ry="4.5" fill="#9984b7" opacity="0.8"/>
<ellipse cx="18" cy="20" rx="4" ry="3" fill="#ebe4ea" opacity="0.9"/>
<ellipse cx="14" cy="5" rx="8" ry="3" fill="#cbb7d2" opacity="0.7"/>
</g>
<g filter="url(#sp)">
<ellipse cx="9" cy="15" rx="11" ry="9" fill="#3b2270" opacity="0.4"/>
</g>
</g>
<g fill="#151515" opacity="0.999">
<text x="7.0" y="16.5" font-size="6.2" text-anchor="middle">F</text>
<text x="26.4" y="22.9" font-size="5.8" font-style="italic" text-anchor="end">Gpr88</text>
</g>
</g>
<clipPath id="c35"><rect x="0" y="0" width="27" height="25.5"/></clipPath>
<g transform="translate(425 154.2)">
<rect width="27" height="25.5" fill="#c9c0c8"/>
<g clip-path="url(#c35)">
<g filter="url(#b1)">
<path d="M13,0 Q18,6 26,11" fill="none" stroke="#a791bc" stroke-width="0.6" stroke-linecap="round" stroke-linejoin="round" opacity="0.8"/>
<rect x="0" y="23" width="27" height="2.5" fill="#dfd8df" opacity="0.8"/>
</g>
</g>
<g fill="#151515" opacity="0.999">
<text x="23.9" y="6.0" font-size="6.2" text-anchor="middle">A</text>
<text x="26.4" y="22.9" font-size="5.8" font-style="italic" text-anchor="end">Rxrg</text>
</g>
</g>
<clipPath id="c36"><rect x="0" y="0" width="27" height="25.5"/></clipPath>
<g transform="translate(456 154.2)">
<rect width="27" height="25.5" fill="#c8bec7"/>
<g clip-path="url(#c36)">
<g filter="url(#b2)">
<path d="M0,0 L27,0 L27,5 Q14,3 0,8Z" fill="#d5ccd5" opacity="0.9"/>
<ellipse cx="4.5" cy="16.5" rx="6" ry="6" fill="#725998" opacity="0.9"/>
<ellipse cx="13" cy="15" rx="8" ry="3.5" fill="#ab97c0" opacity="0.8"/>
<ellipse cx="22" cy="13" rx="4" ry="3" fill="#bfafcf" opacity="0.7"/>
<rect x="0" y="23.5" width="27" height="2" fill="#e7e0e7" opacity="0.8"/>
</g>
<g filter="url(#sp)">
<ellipse cx="7" cy="16" rx="9" ry="7" fill="#3b2270" opacity="0.4"/>
</g>
</g>
<g fill="#151515" opacity="0.999">
<text x="8.7" y="15.4" font-size="6.2" text-anchor="middle">F</text>
<text x="26.4" y="22.9" font-size="5.8" font-style="italic" text-anchor="end">Rxrg</text>
</g>
</g>
<clipPath id="c37"><rect x="0" y="0" width="27" height="25.5"/></clipPath>
<g transform="translate(486 154.2)">
<rect width="27" height="25.5" fill="#eae4ed"/>
<g clip-path="url(#c37)">
<g filter="url(#b1)">
<path d="M0,3 Q16,5 27,13 L27,16 Q14,8 0,7Z" fill="#d7cde2" opacity="0.8"/>
<path d="M0,0 L27,0 L27,12 Q16,4 0,2Z" fill="#f8f5f8" opacity="1"/>
<path d="M0,2.5 Q16,4.5 27,12.5" fill="none" stroke="#b7a5cc" stroke-width="0.9" stroke-linecap="round" stroke-linejoin="round" opacity="0.9"/>
<rect x="0" y="24" width="27" height="1.5" fill="#f2eef4" opacity="0.9"/>
</g>
</g>
<g fill="#151515" opacity="0.999">
<text x="23.9" y="6.0" font-size="6.2" text-anchor="middle">A</text>
<text x="26.4" y="22.9" font-size="5.8" font-style="italic" text-anchor="end">Rarb</text>
</g>
</g>
<clipPath id="c38"><rect x="0" y="0" width="27" height="25.5"/></clipPath>
<g transform="translate(517 154.2)">
<rect width="27" height="25.5" fill="#e4dce9"/>
<g clip-path="url(#c38)">
<g filter="url(#b2)">
<path d="M0,0 L8,0 Q3,3 0,8Z" fill="#f6f2f6" opacity="1"/>
<path d="M10,3 Q18,0 27,4 L27,8 Q18,4 12,7Z" fill="#f2eef4" opacity="0.9"/>
<ellipse cx="9" cy="15" rx="9.5" ry="7.5" fill="#725998" opacity="0.9" transform="rotate(-15 9 15)"/>
<ellipse cx="7" cy="15" rx="5" ry="4.5" fill="#5d428c" opacity="0.8"/>
<ellipse cx="16" cy="11" rx="5" ry="3.5" fill="#8b74ac" opacity="0.85"/>
<path d="M19,9 Q23,8 26,10 Q23,12 20,12Z" fill="#f4f0f4" opacity="0.9"/>
</g>
<g filter="url(#sp)">
<ellipse cx="10" cy="14" rx="11" ry="8" fill="#3b2270" opacity="0.35"/>
</g>
</g>
<g fill="#151515" opacity="0.999">
<text x="6.2" y="14.9" font-size="6.2" text-anchor="middle">F</text>
<text x="26.4" y="22.9" font-size="5.8" font-style="italic" text-anchor="end">Rarb</text>
</g>
</g>
<clipPath id="c39"><rect x="0" y="0" width="27" height="25.5"/></clipPath>
<g transform="translate(548 154.2)">
<rect width="27" height="25.5" fill="#eae3ed"/>
<g clip-path="url(#c39)">
<g filter="url(#b1)">
<path d="M0,0 L27,0 L27,11 Q16,3 0,0.5Z" fill="#faf8fa" opacity="1"/>
<path d="M0,1 Q16,3.5 27,11.5" fill="none" stroke="#ccbdd9" stroke-width="0.8" stroke-linecap="round" stroke-linejoin="round" opacity="0.9"/>
<path d="M0,16 Q14,18 27,24 L27,25.5 L0,25.5Z" fill="#f0eaf1" opacity="0.7"/>
</g>
</g>
<g fill="#151515" opacity="0.999">
<text x="23.9" y="6.0" font-size="6.2" text-anchor="middle">A</text>
<text x="26.4" y="22.9" font-size="5.8" font-style="italic" text-anchor="end">Ebf1</text>
</g>
</g>
<clipPath id="c40"><rect x="0" y="0" width="27" height="25.5"/></clipPath>
<g transform="translate(579 154.2)">
<rect width="27" height="25.5" fill="#d9c9d7"/>
<g clip-path="url(#c40)">
<g filter="url(#b2)">
<ellipse cx="7" cy="16" rx="8" ry="8.5" fill="#7b64a1" opacity="0.88"/>
<ellipse cx="15" cy="14.5" rx="3.5" ry="3" fill="#5d448a" opacity="0.9"/>
<ellipse cx="13" cy="7" rx="8" ry="3" fill="#baa1c1" opacity="0.7"/>
<path d="M19,12 L27,12 L27,16.5 L20,16.5Z" fill="#f2eef2" opacity="1"/>
<path d="M19,17 L27,17 L27,25.5 L18,25.5Z" fill="#e1d7e1" opacity="0.9"/>
<ellipse cx="17.5" cy="20" rx="4" ry="4.5" fill="#a38ebb" opacity="0.75"/>
<ellipse cx="3" cy="4" rx="4" ry="3" fill="#e9d9e3" opacity="0.7"/>
</g>
<g filter="url(#sp)">
<ellipse cx="9" cy="15" rx="10" ry="9" fill="#3b2270" opacity="0.35"/>
</g>
</g>
<g fill="#151515" opacity="0.999">
<text x="6.7" y="16.2" font-size="6.2" text-anchor="middle">F</text>
<text x="26.4" y="22.9" font-size="5.8" font-style="italic" text-anchor="end">Ebf1</text>
</g>
</g>
<clipPath id="c41"><rect x="0" y="0" width="27" height="25.5"/></clipPath>
<g transform="translate(610 154.2)">
<rect width="27" height="25.5" fill="#f1edf4"/>
<g clip-path="url(#c41)">
<g filter="url(#b1)">
<path d="M0,0 L27,0 L27,11 Q16,3 0,0.5Z" fill="#fcfbfc" opacity="1"/>
<path d="M0,1 Q16,3.5 27,11.5" fill="none" stroke="#c5b9d9" stroke-width="0.7" stroke-linecap="round" stroke-linejoin="round" opacity="0.9"/>
<path d="M0,3 Q16,5 27,13 L27,17 Q14,9 0,9Z" fill="#e6e0ef" opacity="0.8"/>
<path d="M4,25.5 L6,21 L8,25.5 L10,22 L12,25.5Z" fill="#fcfbfc" opacity="1"/>
</g>
</g>
<g fill="#151515" opacity="0.999">
<text x="23.9" y="6.0" font-size="6.2" text-anchor="middle">A</text>
<text x="26.4" y="22.9" font-size="5.8" font-style="italic" text-anchor="end">Isl1</text>
</g>
</g>
<clipPath id="c42"><rect x="0" y="0" width="27" height="25.5"/></clipPath>
<g transform="translate(641 154.2)">
<rect width="27" height="25.5" fill="#c8bedd"/>
<g clip-path="url(#c42)">
<g filter="url(#b2)">
<path d="M0,0 L6,0 Q1,4 0,9Z" fill="#f4f0f6" opacity="1"/>
<path d="M5,24 Q-1,12 8,4 Q16,-1 24,3" fill="none" stroke="#8976b5" stroke-width="4.5" stroke-linecap="round" stroke-linejoin="round" opacity="0.85"/>
<ellipse cx="8" cy="22" rx="6" ry="4" fill="#8976b5" opacity="0.85"/>
<ellipse cx="15" cy="16" rx="3" ry="7.5" fill="#ece6f1" opacity="0.9" transform="rotate(10 15 16)"/>
<ellipse cx="22" cy="13" rx="3.5" ry="7" fill="#b3a7d1" opacity="0.8"/>
</g>
<g filter="url(#sp)">
<rect x="0" y="0" width="27" height="25.5" fill="#593e8f" opacity="0.3"/>
</g>
</g>
<g fill="#151515" opacity="0.999">
<text x="21.3" y="6.2" font-size="6.2" text-anchor="middle">C</text>
<text x="8.4" y="13.700000000000001" font-size="6.2" text-anchor="middle">B</text>
<text x="26.4" y="22.9" font-size="5.8" font-style="italic" text-anchor="end">Isl1</text>
</g>
</g>
<clipPath id="c43"><rect x="0" y="0" width="27" height="25.5"/></clipPath>
<g transform="translate(672 154.2)">
<rect width="27" height="25.5" fill="#ebe5ed"/>
<g clip-path="url(#c43)">
<g filter="url(#b1)">
<path d="M0,0 L27,0 L27,9 Q16,2 0,2Z" fill="#f2eef4" opacity="1"/>
<path d="M0,6 Q16,6 27,14" fill="none" stroke="#d1c5df" stroke-width="1.6" stroke-linecap="round" stroke-linejoin="round" opacity="0.9"/>
</g>
</g>
<g fill="#151515" opacity="0.999">
<text x="23.9" y="6.0" font-size="6.2" text-anchor="middle">A</text>
<text x="26.4" y="22.9" font-size="5.8" font-style="italic" text-anchor="end">Syt6</text>
</g>
</g>
<clipPath id="c44"><rect x="0" y="0" width="27" height="25.5"/></clipPath>
<g transform="translate(702.6 154.2)">
<rect width="27" height="25.5" fill="#e7e0e9"/>
<g clip-path="url(#c44)">
<g filter="url(#b2)">
<ellipse cx="5.5" cy="14" rx="5" ry="6" fill="#735b9b" opacity="0.9"/>
<ellipse cx="5" cy="14.5" rx="3" ry="3.5" fill="#594088" opacity="0.8"/>
<ellipse cx="8" cy="9" rx="4" ry="3" fill="#9984b7" opacity="0.75"/>
<ellipse cx="20" cy="9" rx="7" ry="5" fill="#f0eaf1" opacity="0.8"/>
<path d="M16,18 Q22,16 27,20" fill="none" stroke="#d1c5dc" stroke-width="1.2" stroke-linecap="round" stroke-linejoin="round" opacity="0.8"/>
<ellipse cx="2" cy="23" rx="2" ry="1.5" fill="#9982ba" opacity="0.8"/>
</g>
</g>
<g fill="#151515" opacity="0.999">
<text x="21.6" y="6.3" font-size="6.2" text-anchor="middle">C</text>
<text x="5.4" y="16.3" font-size="6.2" text-anchor="middle">B</text>
<text x="26.4" y="22.9" font-size="5.8" font-style="italic" text-anchor="end">Syt6</text>
</g>
</g>
<clipPath id="c45"><rect x="0" y="0" width="27" height="25.8"/></clipPath>
<g transform="translate(332 185.5)">
<rect width="27" height="25.8" fill="#e0d8e1"/>
<g clip-path="url(#c45)">
<g filter="url(#b1)">
<path d="M8,0 L27,0 L27,14 Q20,5 8,0Z" fill="#eeeaee" opacity="1"/>
<path d="M8,0 Q20,5.5 27,14.5" fill="none" stroke="#b3a1c8" stroke-width="0.8" stroke-linecap="round" stroke-linejoin="round" opacity="0.9"/>
<path d="M0,18 L4,26 L0,25.8Z" fill="#f0ecf0" opacity="1"/>
</g>
</g>
<g fill="#151515" opacity="0.999">
<text x="23.9" y="6.0" font-size="6.2" text-anchor="middle">A</text>
<text x="26.6" y="23.2" font-size="5.8" font-style="italic" text-anchor="end">Zfp503</text>
</g>
</g>
<clipPath id="c46"><rect x="0" y="0" width="27" height="25.8"/></clipPath>
<g transform="translate(363 185.5)">
<rect width="27" height="25.8" fill="#dcd5dd"/>
<g clip-path="url(#c46)">
<g filter="url(#b1)">
<path d="M4,22 Q1,12 6,4 Q9,1 12,2 Q7,6 7,13 Q7,19 9,23Z" fill="#9b88b9" opacity="0.95"/>
<ellipse cx="14" cy="10" rx="5" ry="8" fill="#ebe6ec" opacity="0.8"/>
<ellipse cx="23" cy="3" rx="2.5" ry="2.5" fill="#a799c7" opacity="0.9"/>
<path d="M22,0 Q25,6 24,12" fill="none" stroke="#ccc1d9" stroke-width="1" stroke-linecap="round" stroke-linejoin="round" opacity="0.7"/>
</g>
</g>
<g fill="#151515" opacity="0.999">
<text x="17.0" y="10.5" font-size="6.2" text-anchor="middle">C</text>
<text x="5.4" y="15.100000000000001" font-size="6.2" text-anchor="middle">B</text>
<text x="26.6" y="23.2" font-size="5.8" font-style="italic" text-anchor="end">Zfp503</text>
</g>
</g>
<clipPath id="c47"><rect x="0" y="0" width="27" height="25.8"/></clipPath>
<g transform="translate(395.3 185.5)">
<rect width="27" height="25.8" fill="#b59ecd"/>
<g clip-path="url(#c47)">
<g filter="url(#b1)">
<rect x="0" y="0" width="27" height="2.5" fill="#ccbddd" opacity="1"/>
<path d="M0,2 L27,3 L27,11 Q14,8 0,8Z" fill="#8c6eb8" opacity="0.95"/>
<path d="M0,17 Q14,18 27,21 L27,25.8 L0,25.8Z" fill="#c9b7da" opacity="0.9"/>
</g>
<g filter="url(#sp)">
<rect x="0" y="0" width="27" height="25.8" fill="#68499f" opacity="0.4"/>
</g>
</g>
<g fill="#151515" opacity="0.999">
<text x="23.9" y="6.0" font-size="6.2" text-anchor="middle">A</text>
<text x="26.4" y="23.2" font-size="5.8" font-style="italic" text-anchor="end">Six3</text>
</g>
</g>
<clipPath id="c48"><rect x="0" y="0" width="27" height="25.8"/></clipPath>
<g transform="translate(426 185.5)">
<rect width="27" height="25.8" fill="#aa92c7"/>
<g clip-path="url(#c48)">
<g filter="url(#b1)">
<path d="M0,0 L12,0 Q2,5 0,20Z" fill="#eee8ee" opacity="1"/>
<ellipse cx="8" cy="13" rx="7" ry="11" fill="#9476bb" opacity="0.9"/>
<path d="M14,3 Q15,14 14,25.8" fill="none" stroke="#bba7d3" stroke-width="0.8" stroke-linecap="round" stroke-linejoin="round" opacity="0.9"/>
<ellipse cx="24" cy="13" rx="2" ry="3" fill="#8062ac" opacity="0.8"/>
<path d="M2,25.8 Q2,20 5,16 L7,25.8Z" fill="#c7b5d8" opacity="0.7"/>
</g>
</g>
<g fill="#151515" opacity="0.999">
<text x="20.4" y="7.0" font-size="6.2" text-anchor="middle">C</text>
<text x="7.4" y="12.0" font-size="6.2" text-anchor="middle">B</text>
<text x="26.4" y="23.2" font-size="5.8" font-style="italic" text-anchor="end">Six3</text>
</g>
</g>
<clipPath id="c49"><rect x="0" y="0" width="25.5" height="25.8"/></clipPath>
<g transform="translate(457.3 185.5)">
<rect width="25.5" height="25.8" fill="#dcd5e4"/>
<g clip-path="url(#c49)">
<g filter="url(#b1)">
<path d="M1,12 Q12,5 26,11" fill="none" stroke="#efebf1" stroke-width="1.6" stroke-linecap="round" stroke-linejoin="round" opacity="0.95"/>
<path d="M0,5 Q12,0 26,4" fill="none" stroke="#ebe6ef" stroke-width="1.2" stroke-linecap="round" stroke-linejoin="round" opacity="0.8"/>
<path d="M0,16 Q12,10 27,16 L27,25.8 L0,25.8Z" fill="#e4dce9" opacity="0.7"/>
</g>
</g>
<g fill="#151515" opacity="0.999">
<text x="23.9" y="6.0" font-size="6.2" text-anchor="middle">A</text>
<text x="26.6" y="23.2" font-size="5.8" font-style="italic" text-anchor="end">Gucy1a3</text>
</g>
</g>
<clipPath id="c50"><rect x="0" y="0" width="26" height="25.8"/></clipPath>
<g transform="translate(488.3 185.5)">
<rect width="26" height="25.8" fill="#e6e0e7"/>
<g clip-path="url(#c50)">
<g filter="url(#b1)">
<ellipse cx="19" cy="5" rx="5" ry="4" fill="#cfc3da" opacity="0.9"/>
<path d="M2,8 Q8,2 14,0" fill="none" stroke="#f4f0f4" stroke-width="1.5" stroke-linecap="round" stroke-linejoin="round" opacity="0.8"/>
</g>
</g>
<g fill="#151515" opacity="0.999">
<text x="20.9" y="6.8" font-size="6.2" text-anchor="middle">C</text>
<text x="6.3" y="16.0" font-size="6.2" text-anchor="middle">B</text>
<text x="26.6" y="23.2" font-size="5.8" font-style="italic" text-anchor="end">Gucy1a3</text>
</g>
</g>
<clipPath id="c51"><rect x="0" y="0" width="58.3" height="55.4"/></clipPath>
<g transform="translate(53.8 215.2)">
<rect width="58.3" height="55.4" fill="#f2eef2"/>
<g clip-path="url(#c51)">
<g filter="url(#b1)">
<path d="M33.0,9.0 C33.8,5.5 33.7,2.5 36.0,1.0 C38.3,-0.5 43.3,0.0 47.0,0.0 C50.7,0.0 56.2,-7.3 58.0,1.0 C59.8,9.3 59.8,41.5 58.0,50.0 C56.2,58.5 50.3,52.0 47.0,52.0 C43.7,52.0 40.3,52.0 38.0,50.0 C35.7,48.0 33.5,43.3 33.0,40.0 C32.5,36.7 35.3,33.0 35.0,30.0 C34.7,27.0 31.3,25.5 31.0,22.0 C30.7,18.5 32.2,12.5 33.0,9.0Z" fill="#c8bcd8" opacity="1"/>
<path d="M8.0,49.0 C7.4,47.5 5.1,43.5 4.5,40.0 C3.9,36.5 3.4,32.3 4.3,28.0 C5.2,23.7 7.2,17.7 10.0,14.0 C12.8,10.3 17.8,7.1 21.0,6.0 C24.2,4.9 27.2,6.3 29.0,7.5 C30.8,8.7 31.8,11.1 32.0,13.0 C32.2,14.9 30.3,18.0 30.0,19.0" fill="none" stroke="#d0c4dd" stroke-width="4.6" stroke-linecap="round" stroke-linejoin="round" opacity="1"/>
<path d="M6.0,47.0 C7.0,47.8 9.0,50.8 12.0,52.0 C15.0,53.2 19.7,54.0 24.0,54.0 C28.3,54.0 35.7,52.3 38.0,52.0" fill="none" stroke="#cbbcd9" stroke-width="3.0" stroke-linecap="round" stroke-linejoin="round" opacity="0.95"/>
<path d="M11.0,30.0 C11.7,26.2 14.5,20.2 17.0,17.0 C19.5,13.8 24.2,11.0 26.0,11.0 C27.8,11.0 28.3,14.8 28.0,17.0 C27.7,19.2 26.0,21.5 24.0,24.0 C22.0,26.5 17.8,29.3 16.0,32.0 C14.2,34.7 13.8,40.3 13.0,40.0 C12.2,39.7 10.3,33.8 11.0,30.0Z" fill="#fbfafb" opacity="1"/>
<path d="M14.0,42.0 C13.2,39.2 13.7,35.5 15.0,33.0 C16.3,30.5 19.5,28.0 22.0,27.0 C24.5,26.0 27.8,25.8 30.0,27.0 C32.2,28.2 34.0,31.2 35.0,34.0 C36.0,36.8 36.8,41.3 36.0,44.0 C35.2,46.7 32.7,49.0 30.0,50.0 C27.3,51.0 22.7,51.3 20.0,50.0 C17.3,48.7 14.8,44.8 14.0,42.0Z" fill="#e0d5e5" opacity="1"/>
<ellipse cx="42" cy="19.5" rx="8.5" ry="9.5" fill="#a997c2" opacity="0.95"/>
<ellipse cx="43" cy="31" rx="4.5" ry="4" fill="#cdbfd9" opacity="0.9"/>
<path d="M51,10 L58.3,8 L58.3,30 L54,26 L52,18Z" fill="#f0ecf0" opacity="0.95"/>
<path d="M52,40 L58.3,36 L58.3,55.4 L48,55.4Z" fill="#efebf0" opacity="0.9"/>
<ellipse cx="46" cy="42" rx="7" ry="6" fill="#b4a5c6" opacity="0.7"/>
</g>
</g>
<g fill="#151515" opacity="0.999">
<text x="40.7" y="21.6" font-size="6.9" text-anchor="middle">E</text>
<text x="56.8" y="53.0" font-size="5.8" font-style="italic" text-anchor="end">Tmem130</text>
</g>
</g>
<clipPath id="c52"><rect x="0" y="0" width="57.4" height="55.4"/></clipPath>
<g transform="translate(116.2 215.2)">
<rect width="57.4" height="55.4" fill="#ede7ef"/>
<g clip-path="url(#c52)">
<g filter="url(#b1)">
<path d="M0,55.4 L0,36 Q10,30 30,32 L44,38 L57.4,40 L57.4,55.4Z" fill="#f0e6ec" opacity="1"/>
<path d="M9.5,48.0 C9.0,46.7 7.0,43.3 6.5,40.0 C6.0,36.7 5.3,32.2 6.3,28.0 C7.3,23.8 9.3,18.1 12.4,15.0 C15.5,11.9 21.3,10.0 24.6,9.4 C27.9,8.8 30.6,10.2 32.0,11.5 C33.4,12.8 33.2,15.1 33.0,17.0 C32.8,18.9 31.8,20.8 31.0,23.0 C30.2,25.2 28.5,28.8 28.0,30.0" fill="none" stroke="#b5a3ca" stroke-width="4.0" stroke-linecap="round" stroke-linejoin="round" opacity="1"/>
<path d="M10.5,43.0 C9.7,41.2 9.2,28.7 11.0,24.0 C12.8,19.3 18.1,16.4 21.0,15.0 C23.9,13.6 27.3,14.0 28.5,15.5 C29.7,17.0 28.9,21.6 28.0,24.0 C27.1,26.4 25.0,28.2 23.0,30.0 C21.0,31.8 18.1,32.8 16.0,35.0 C13.9,37.2 11.3,44.8 10.5,43.0Z" fill="#f3f0f6" opacity="1"/>
<path d="M13.0,44.0 C13.2,41.0 13.5,38.8 15.0,37.0 C16.5,35.2 19.5,33.7 22.0,33.0 C24.5,32.3 27.7,32.2 30.0,33.0 C32.3,33.8 34.7,35.5 36.0,38.0 C37.3,40.5 38.3,45.2 38.0,48.0 C37.7,50.8 38.0,53.8 34.0,55.0 C30.0,56.2 17.5,56.8 14.0,55.0 C10.5,53.2 12.8,47.0 13.0,44.0Z" fill="#ecdfe6" opacity="1"/>
<path d="M19.0,50.0 C19.5,49.3 20.7,46.8 22.0,46.0 C23.3,45.2 26.2,45.2 27.0,45.0" fill="none" stroke="#c1a7c5" stroke-width="2.2" stroke-linecap="round" stroke-linejoin="round" opacity="0.85"/>
<path d="M2.0,52.0 C3.0,52.3 5.7,53.7 8.0,54.0 C10.3,54.3 14.7,54.0 16.0,54.0" fill="none" stroke="#c1b1cf" stroke-width="1.2" stroke-linecap="round" stroke-linejoin="round" opacity="0.8"/>
<path d="M22.0,4.0 C24.0,3.6 30.0,2.0 34.0,1.5 C38.0,1.0 44.0,1.1 46.0,1.0" fill="none" stroke="#cfc0dd" stroke-width="1.2" stroke-linecap="round" stroke-linejoin="round" opacity="0.8"/>
<path d="M38,15 L44,8 L51,2.5 L57.4,0 L57.4,23 L47,28 L38.5,30.5 L35.8,24.5Z" fill="#8771ad" opacity="1"/>
<path d="M38,22 L46,18 L57.4,17 L57.4,23 L47,28 L38.5,30.5 L35.8,24.5Z" fill="#7961a3" opacity="0.7"/>
<path d="M49,3 L57.4,0 L57.4,5 L53,5Z" fill="#533786" opacity="0.9"/>
<ellipse cx="40.2" cy="41.5" rx="1.5" ry="3.4" fill="#2d175c" opacity="1"/>
<ellipse cx="39" cy="36" rx="1.2" ry="2" fill="#8971a9" opacity="0.8"/>
<path d="M40,31 L57.4,25 L57.4,46 Q48,44 43,38Z" fill="#f6f1f5" opacity="0.9"/>
</g>
</g>
<g fill="#151515" opacity="0.999">
<text x="43.4" y="24.6" font-size="6.9" text-anchor="middle">E</text>
<text x="55.9" y="53.0" font-size="5.8" font-style="italic" text-anchor="end">Tcf7l2</text>
</g>
</g>
<clipPath id="c53"><rect x="0" y="0" width="57.4" height="55.4"/></clipPath>
<g transform="translate(178.2 215.2)">
<rect width="57.4" height="55.4" fill="#e7e6ec"/>
<g clip-path="url(#c53)">
<g filter="url(#b1)">
<path d="M42.0,12.0 C42.7,7.5 45.4,4.8 48.0,3.0 C50.6,1.2 55.8,-7.7 57.4,1.0 C59.0,9.7 60.3,46.3 57.4,55.4 C54.5,64.5 42.2,57.3 40.0,55.4 C37.8,53.5 43.3,48.2 44.0,44.0 C44.7,39.8 44.3,35.3 44.0,30.0 C43.7,24.7 41.3,16.5 42.0,12.0Z" fill="#cbcadb" opacity="0.95"/>
<path d="M7.0,50.0 C6.5,48.7 4.5,45.0 4.0,42.0 C3.5,39.0 2.7,36.1 3.9,32.0 C5.1,27.9 7.3,21.3 11.0,17.5 C14.7,13.7 21.7,10.2 25.8,9.0 C29.9,7.8 33.3,8.8 35.5,10.0 C37.7,11.2 38.8,14.1 39.0,16.0 C39.2,17.9 37.5,20.3 36.5,21.5 C35.5,22.7 33.6,22.8 33.0,23.0" fill="none" stroke="#b7b6cf" stroke-width="4.2" stroke-linecap="round" stroke-linejoin="round" opacity="1"/>
<path d="M5.0,50.0 C6.2,50.7 8.5,53.2 12.0,54.0 C15.5,54.8 23.7,54.8 26.0,55.0" fill="none" stroke="#c4c3d7" stroke-width="2.0" stroke-linecap="round" stroke-linejoin="round" opacity="0.9"/>
<path d="M8.0,44.0 C7.7,41.8 8.0,31.7 10.0,27.0 C12.0,22.3 16.2,18.2 20.0,16.0 C23.8,13.8 30.7,13.2 33.0,13.5 C35.3,13.8 34.8,16.2 34.0,18.0 C33.2,19.8 30.7,21.8 28.0,24.0 C25.3,26.2 20.7,28.3 18.0,31.0 C15.3,33.7 13.7,37.8 12.0,40.0 C10.3,42.2 8.3,46.2 8.0,44.0Z" fill="#ebebf0" opacity="1"/>
<path d="M13.0,47.0 C13.3,44.7 14.8,40.7 17.0,38.0 C19.2,35.3 22.8,32.7 26.0,31.0 C29.2,29.3 33.3,28.0 36.0,28.0 C38.7,28.0 41.3,29.0 42.0,31.0 C42.7,33.0 40.8,37.2 40.0,40.0 C39.2,42.8 39.3,46.0 37.0,48.0 C34.7,50.0 29.7,51.3 26.0,52.0 C22.3,52.7 17.2,52.8 15.0,52.0 C12.8,51.2 12.7,49.3 13.0,47.0Z" fill="#c6c5d9" opacity="1"/>
<ellipse cx="46.4" cy="21.6" rx="5.2" ry="3.8" fill="#55537d" opacity="1"/>
<ellipse cx="44.5" cy="22" rx="2.5" ry="2.8" fill="#3c3a66" opacity="0.9"/>
<ellipse cx="45.5" cy="35.5" rx="1.2" ry="4" fill="#f4f4f8" opacity="0.95" transform="rotate(35 45.5 35.5)"/>
<ellipse cx="52" cy="8" rx="2" ry="4" fill="#9a98ba" opacity="0.6"/>
</g>
</g>
<g fill="#151515" opacity="0.999">
<text x="48.3" y="24.6" font-size="6.9" text-anchor="middle">E</text>
<text x="55.9" y="53.0" font-size="5.8" font-style="italic" text-anchor="end">Syt13</text>
</g>
</g>
<clipPath id="c54"><rect x="0" y="0" width="57.6" height="55.4"/></clipPath>
<g transform="translate(239.2 215.2)">
<rect width="57.6" height="55.4" fill="#f2f0f6"/>
<g clip-path="url(#c54)">
<g filter="url(#b1)">
<path d="M40.0,12.0 C41.3,8.5 43.1,5.0 46.0,3.0 C48.9,1.0 55.6,-6.2 57.5,0.0 C59.4,6.2 59.1,33.3 57.5,40.0 C55.9,46.7 50.6,41.3 48.0,40.0 C45.4,38.7 43.7,34.7 42.0,32.0 C40.3,29.3 38.3,27.3 38.0,24.0 C37.7,20.7 38.7,15.5 40.0,12.0Z" fill="#c6bad9" opacity="0.95"/>
<path d="M11.0,51.0 C9.8,49.5 5.4,45.0 4.0,42.0 C2.6,39.0 2.2,36.7 2.8,33.0 C3.4,29.3 4.7,23.5 7.5,19.7 C10.3,15.9 15.4,12.4 19.7,10.0 C23.9,7.6 29.9,5.5 33.0,5.2 C36.1,5.0 37.9,6.9 38.6,8.5 C39.4,10.1 38.4,12.8 37.5,15.0 C36.6,17.2 34.3,20.3 33.0,21.5 C31.7,22.7 30.1,21.9 29.5,22.0" fill="none" stroke="#c2b6d8" stroke-width="5.2" stroke-linecap="round" stroke-linejoin="round" opacity="1"/>
<path d="M9.0,52.0 C7.8,50.3 3.2,45.2 1.8,42.0 C0.4,38.8 0.2,36.9 0.8,33.0 C1.4,29.1 2.5,22.7 5.5,18.5 C8.5,14.3 14.1,10.6 18.7,8.0 C23.3,5.4 29.4,3.5 33.0,3.2 C36.5,3.0 38.8,6.0 40.0,6.5" fill="none" stroke="#8a7db7" stroke-width="1.5" stroke-linecap="round" stroke-linejoin="round" opacity="0.95"/>
<path d="M5.0,51.0 C6.5,51.6 9.8,53.8 14.0,54.5 C18.2,55.2 27.3,54.9 30.0,55.0" fill="none" stroke="#b4a8ce" stroke-width="1.3" stroke-linecap="round" stroke-linejoin="round" opacity="0.9"/>
<path d="M10.0,35.0 C9.9,32.7 11.0,25.7 13.6,22.0 C16.2,18.3 22.3,14.5 25.8,12.6 C29.3,10.7 33.3,9.9 34.5,10.5 C35.7,11.1 34.2,14.1 33.0,16.0 C31.8,17.9 28.8,19.8 27.0,22.0 C25.2,24.2 24.2,26.7 22.0,29.0 C19.8,31.3 16.0,35.0 14.0,36.0 C12.0,37.0 10.1,37.3 10.0,35.0Z" fill="#fdfcfe" opacity="1"/>
<path d="M13.0,40.0 C12.8,36.8 14.8,35.0 17.0,33.0 C19.2,31.0 22.8,28.5 26.0,28.0 C29.2,27.5 33.7,28.3 36.0,30.0 C38.3,31.7 39.3,35.0 40.0,38.0 C40.7,41.0 41.3,45.5 40.0,48.0 C38.7,50.5 35.7,52.3 32.0,53.0 C28.3,53.7 21.2,54.2 18.0,52.0 C14.8,49.8 13.2,43.2 13.0,40.0Z" fill="#eadfe4" opacity="1"/>
<ellipse cx="43" cy="22.3" rx="5.6" ry="6.5" fill="#a596c3" opacity="0.95"/>
<path d="M38.5,20.0 C38.6,21.2 38.1,25.4 39.0,27.0 C39.9,28.6 43.2,29.1 44.0,29.5" fill="none" stroke="#7c6da7" stroke-width="1.4" stroke-linecap="round" stroke-linejoin="round" opacity="0.8"/>
<ellipse cx="40.5" cy="34" rx="3" ry="1.6" fill="#9c8dbc" opacity="0.8" transform="rotate(25 40.5 34)"/>
<path d="M49,0 L57.5,0 L57.5,5 L52,4Z" fill="#6a5b9d" opacity="0.9"/>
<ellipse cx="55" cy="36" rx="2" ry="5" fill="#b4a9d2" opacity="0.7"/>
</g>
</g>
<g fill="#151515" opacity="0.999">
<text x="43.2" y="24.400000000000002" font-size="6.9" text-anchor="middle">E</text>
<text x="56.1" y="53.0" font-size="5.8" font-style="italic" text-anchor="end">Lhx9</text>
</g>
</g>
<clipPath id="c55"><rect x="0" y="0" width="58.3" height="55.4"/></clipPath>
<g transform="translate(301.2 215.2)">
<rect width="58.3" height="55.4" fill="#f4f3f8"/>
<g clip-path="url(#c55)">
<g filter="url(#b1)">
<path d="M46.0,12.0 C47.0,8.2 48.0,6.5 50.0,5.0 C52.0,3.5 56.9,-5.4 58.3,3.0 C59.7,11.4 60.7,46.7 58.3,55.4 C55.9,64.1 46.0,58.0 44.0,55.4 C42.0,52.8 46.0,44.6 46.0,40.0 C46.0,35.4 44.0,32.7 44.0,28.0 C44.0,23.3 45.0,15.8 46.0,12.0Z" fill="#e6e4ef" opacity="0.95"/>
<path d="M9.0,51.0 C8.4,49.5 6.0,44.8 5.3,42.0 C4.6,39.2 4.3,37.7 5.1,34.0 C5.9,30.3 7.2,23.7 10.0,19.7 C12.8,15.7 17.2,12.2 22.0,10.0 C26.8,7.8 35.2,6.2 39.0,6.3 C42.8,6.4 43.8,8.7 44.5,10.5 C45.2,12.3 43.8,15.4 43.0,17.0 C42.2,18.6 40.5,19.5 40.0,20.0" fill="none" stroke="#e3e1ee" stroke-width="5.0" stroke-linecap="round" stroke-linejoin="round" opacity="1"/>
<path d="M14.5,36.0 C14.4,33.8 13.9,28.3 16.0,24.6 C18.1,20.9 23.1,16.0 27.0,13.6 C30.9,11.2 37.5,9.5 39.5,10.0 C41.5,10.5 40.7,14.3 39.0,16.5 C37.3,18.7 32.4,21.2 29.4,23.3 C26.4,25.4 23.1,26.9 21.0,29.4 C18.9,31.8 17.6,36.9 16.5,38.0 C15.4,39.1 14.6,38.2 14.5,36.0Z" fill="#fdfdfe" opacity="1"/>
<path d="M15.0,44.0 C15.3,40.8 16.8,37.5 19.0,35.0 C21.2,32.5 24.5,30.2 28.0,29.0 C31.5,27.8 37.0,27.2 40.0,28.0 C43.0,28.8 45.0,31.0 46.0,34.0 C47.0,37.0 47.7,42.7 46.0,46.0 C44.3,49.3 40.8,52.7 36.0,54.0 C31.2,55.3 20.5,55.7 17.0,54.0 C13.5,52.3 14.7,47.2 15.0,44.0Z" fill="#e6e4ef" opacity="1"/>
<ellipse cx="49.5" cy="22.7" rx="5.6" ry="5.2" fill="#564388" opacity="1"/>
<ellipse cx="49.2" cy="22" rx="3.3" ry="3" fill="#2c1b60" opacity="1"/>
<ellipse cx="47" cy="33" rx="2" ry="2.5" fill="#f6f5fa" opacity="0.9"/>
</g>
</g>
<g fill="#151515" opacity="0.999">
<text x="49.5" y="24.700000000000003" font-size="6.9" text-anchor="middle">E</text>
<text x="56.8" y="53.0" font-size="5.8" font-style="italic" text-anchor="end">Rora</text>
</g>
</g>
<clipPath id="c56"><rect x="0" y="0" width="57" height="55.4"/></clipPath>
<g transform="translate(363.2 215.2)">
<rect width="57" height="55.4" fill="#f2eef4"/>
<g clip-path="url(#c56)">
<g filter="url(#b1)">
<path d="M41.0,10.0 C42.0,5.3 43.3,3.7 46.0,2.0 C48.7,0.3 55.2,-8.9 57.0,0.0 C58.8,8.9 59.5,46.2 57.0,55.4 C54.5,64.6 44.2,57.6 42.0,55.4 C39.8,53.2 44.3,46.2 44.0,42.0 C43.7,37.8 40.5,35.3 40.0,30.0 C39.5,24.7 40.0,14.7 41.0,10.0Z" fill="#d9cfe3" opacity="0.95"/>
<path d="M10.0,47.0 C9.4,45.8 7.1,42.9 6.5,40.0 C5.9,37.1 5.3,33.4 6.3,29.4 C7.3,25.4 9.2,19.6 12.4,16.0 C15.7,12.3 21.5,9.1 25.8,7.5 C30.1,5.9 35.6,5.6 38.0,6.3 C40.4,7.0 40.2,9.5 40.2,11.5 C40.2,13.5 39.2,16.1 38.0,18.5 C36.8,20.9 33.8,24.8 33.0,26.0" fill="none" stroke="#c4b8d7" stroke-width="5.6" stroke-linecap="round" stroke-linejoin="round" opacity="1"/>
<path d="M6.0,44.0 C6.3,45.3 5.7,50.3 8.0,52.0 C10.3,53.7 15.7,54.0 20.0,54.0 C24.3,54.0 31.7,52.3 34.0,52.0" fill="none" stroke="#cfc4dd" stroke-width="2.0" stroke-linecap="round" stroke-linejoin="round" opacity="0.9"/>
<path d="M12.4,38.0 C12.0,35.2 12.0,29.5 13.6,25.8 C15.2,22.1 18.4,18.6 22.0,16.0 C25.6,13.4 33.4,9.8 35.5,10.0 C37.6,10.2 35.5,14.6 34.5,17.0 C33.5,19.4 30.4,22.1 29.4,24.6 C28.3,27.1 29.6,29.6 28.2,32.0 C26.8,34.4 23.0,37.2 21.0,39.0 C19.0,40.8 17.4,42.7 16.0,42.5 C14.6,42.3 12.8,40.8 12.4,38.0Z" fill="#fdfcfd" opacity="1"/>
<path d="M17.0,45.0 C17.3,43.0 20.0,42.0 22.0,40.0 C24.0,38.0 26.3,34.7 29.0,33.0 C31.7,31.3 35.8,29.5 38.0,30.0 C40.2,30.5 41.3,33.0 42.0,36.0 C42.7,39.0 43.3,45.2 42.0,48.0 C40.7,50.8 37.7,52.3 34.0,53.0 C30.3,53.7 22.8,53.3 20.0,52.0 C17.2,50.7 16.7,47.0 17.0,45.0Z" fill="#e1d8e7" opacity="1"/>
<ellipse cx="46.2" cy="23.8" rx="8" ry="8.3" fill="#ac9dc4" opacity="0.95"/>
<ellipse cx="46.2" cy="23.8" rx="5.4" ry="5.8" fill="#8570ab" opacity="0.95"/>
<ellipse cx="51" cy="7" rx="4.5" ry="3" fill="#ac9dc6" opacity="0.8"/>
<ellipse cx="47" cy="38" rx="3" ry="1.2" fill="#f6f2f6" opacity="0.8"/>
</g>
</g>
<g fill="#151515" opacity="0.999">
<text x="45.8" y="25.1" font-size="6.9" text-anchor="middle">E</text>
<text x="55.5" y="53.0" font-size="5.8" font-style="italic" text-anchor="end">Ntng1</text>
</g>
</g>
<path d="M66.45,136.20 L67.25,134.20 M68.15,136.20 L68.95,134.20" stroke="#1a1a1a" stroke-width="0.6" fill="none"/>
<path d="M97.65,136.20 L98.45,134.20 M99.35,136.20 L100.15,134.20" stroke="#1a1a1a" stroke-width="0.6" fill="none"/>
<path d="M128.65,136.20 L129.45,134.20 M130.35,136.20 L131.15,134.20" stroke="#1a1a1a" stroke-width="0.6" fill="none"/>
<path d="M159.65,136.20 L160.45,134.20 M161.35,136.20 L162.15,134.20" stroke="#1a1a1a" stroke-width="0.6" fill="none"/>
<path d="M191.15,136.20 L191.95,134.20 M192.85,136.20 L193.65,134.20" stroke="#1a1a1a" stroke-width="0.6" fill="none"/>
<path d="M222.25,136.20 L223.05,134.20 M223.95,136.20 L224.75,134.20" stroke="#1a1a1a" stroke-width="0.6" fill="none"/>
<path d="M253.45,136.20 L254.25,134.20 M255.15,136.20 L255.95,134.20" stroke="#1a1a1a" stroke-width="0.6" fill="none"/>
<path d="M284.65,136.20 L285.45,134.20 M286.35,136.20 L287.15,134.20" stroke="#1a1a1a" stroke-width="0.6" fill="none"/>
<path d="M315.65,136.20 L316.45,134.20 M317.35,136.20 L318.15,134.20" stroke="#1a1a1a" stroke-width="0.6" fill="none"/>
<circle cx="348" cy="135.3" r="0.45" fill="#555"/>
<circle cx="376.5" cy="135.3" r="0.45" fill="#555"/>
<circle cx="408.5" cy="135.3" r="0.45" fill="#555"/>
<circle cx="440.5" cy="135.3" r="0.45" fill="#555"/>
<path d="M253.45,168.20 L254.25,166.20 M255.15,168.20 L255.95,166.20" stroke="#1a1a1a" stroke-width="0.6" fill="none"/>
<path d="M284.65,168.20 L285.45,166.20 M286.35,168.20 L287.15,166.20" stroke="#1a1a1a" stroke-width="0.6" fill="none"/>
<path d="M315.65,168.20 L316.45,166.20 M317.35,168.20 L318.15,166.20" stroke="#1a1a1a" stroke-width="0.6" fill="none"/>
<path d="M66.45,200.40 L67.25,198.40 M68.15,200.40 L68.95,198.40" stroke="#1a1a1a" stroke-width="0.6" fill="none"/>
<path d="M97.65,200.40 L98.45,198.40 M99.35,200.40 L100.15,198.40" stroke="#1a1a1a" stroke-width="0.6" fill="none"/>
<path d="M128.65,200.40 L129.45,198.40 M130.35,200.40 L131.15,198.40" stroke="#1a1a1a" stroke-width="0.6" fill="none"/>
<path d="M159.65,200.40 L160.45,198.40 M161.35,200.40 L162.15,198.40" stroke="#1a1a1a" stroke-width="0.6" fill="none"/>
<path d="M191.15,200.40 L191.95,198.40 M192.85,200.40 L193.65,198.40" stroke="#1a1a1a" stroke-width="0.6" fill="none"/>
<path d="M222.25,200.40 L223.05,198.40 M223.95,200.40 L224.75,198.40" stroke="#1a1a1a" stroke-width="0.6" fill="none"/>
<path d="M253.45,200.40 L254.25,198.40 M255.15,200.40 L255.95,198.40" stroke="#1a1a1a" stroke-width="0.6" fill="none"/>
<path d="M284.65,200.40 L285.45,198.40 M286.35,200.40 L287.15,198.40" stroke="#1a1a1a" stroke-width="0.6" fill="none"/>
<path d="M315.65,200.40 L316.45,198.40 M317.35,200.40 L318.15,198.40" stroke="#1a1a1a" stroke-width="0.6" fill="none"/>
<path d="M622.65,200.40 L623.45,198.40 M624.35,200.40 L625.15,198.40" stroke="#1a1a1a" stroke-width="0.6" fill="none"/>
<path d="M653.65,200.40 L654.45,198.40 M655.35,200.40 L656.15,198.40" stroke="#1a1a1a" stroke-width="0.6" fill="none"/>
<path d="M684.35,200.40 L685.15,198.40 M686.05,200.40 L686.85,198.40" stroke="#1a1a1a" stroke-width="0.6" fill="none"/>
<path d="M715.25,200.40 L716.05,198.40 M716.95,200.40 L717.75,198.40" stroke="#1a1a1a" stroke-width="0.6" fill="none"/>
<rect x="218.6" y="274.9" width="377.0" height="174.8" fill="#fff" stroke="#b4b4b4" stroke-width="0.7"/>
<g stroke="#555" stroke-width="0.45">
<line x1="217.00" y1="279.50" x2="218.60" y2="279.50"/>
<line x1="217.00" y1="287.39" x2="218.60" y2="287.39"/>
<line x1="217.00" y1="295.29" x2="218.60" y2="295.29"/>
<line x1="217.00" y1="303.19" x2="218.60" y2="303.19"/>
<line x1="217.00" y1="311.08" x2="218.60" y2="311.08"/>
<line x1="217.00" y1="318.98" x2="218.60" y2="318.98"/>
<line x1="217.00" y1="326.87" x2="218.60" y2="326.87"/>
<line x1="217.00" y1="334.76" x2="218.60" y2="334.76"/>
<line x1="217.00" y1="342.66" x2="218.60" y2="342.66"/>
<line x1="217.00" y1="350.56" x2="218.60" y2="350.56"/>
<line x1="217.00" y1="358.45" x2="218.60" y2="358.45"/>
<line x1="217.00" y1="366.35" x2="218.60" y2="366.35"/>
<line x1="217.00" y1="374.24" x2="218.60" y2="374.24"/>
<line x1="217.00" y1="382.13" x2="218.60" y2="382.13"/>
<line x1="217.00" y1="390.03" x2="218.60" y2="390.03"/>
<line x1="217.00" y1="397.93" x2="218.60" y2="397.93"/>
<line x1="217.00" y1="405.82" x2="218.60" y2="405.82"/>
<line x1="217.00" y1="413.72" x2="218.60" y2="413.72"/>
<line x1="217.00" y1="421.61" x2="218.60" y2="421.61"/>
<line x1="217.00" y1="429.50" x2="218.60" y2="429.50"/>
<line x1="217.00" y1="437.40" x2="218.60" y2="437.40"/>
<line x1="217.00" y1="445.29" x2="218.60" y2="445.29"/>
<line x1="225.85" y1="449.70" x2="225.85" y2="451.30"/>
<line x1="237.56" y1="449.70" x2="237.56" y2="451.30"/>
<line x1="249.28" y1="449.70" x2="249.28" y2="451.30"/>
<line x1="260.99" y1="449.70" x2="260.99" y2="451.30"/>
<line x1="272.71" y1="449.70" x2="272.71" y2="451.30"/>
<line x1="284.42" y1="449.70" x2="284.42" y2="451.30"/>
<line x1="296.13" y1="449.70" x2="296.13" y2="451.30"/>
<line x1="307.85" y1="449.70" x2="307.85" y2="451.30"/>
<line x1="319.56" y1="449.70" x2="319.56" y2="451.30"/>
<line x1="331.28" y1="449.70" x2="331.28" y2="451.30"/>
<line x1="342.99" y1="449.70" x2="342.99" y2="451.30"/>
<line x1="354.70" y1="449.70" x2="354.70" y2="451.30"/>
<line x1="366.42" y1="449.70" x2="366.42" y2="451.30"/>
<line x1="378.13" y1="449.70" x2="378.13" y2="451.30"/>
<line x1="389.85" y1="449.70" x2="389.85" y2="451.30"/>
<line x1="401.56" y1="449.70" x2="401.56" y2="451.30"/>
<line x1="413.27" y1="449.70" x2="413.27" y2="451.30"/>
<line x1="424.99" y1="449.70" x2="424.99" y2="451.30"/>
<line x1="436.70" y1="449.70" x2="436.70" y2="451.30"/>
<line x1="448.42" y1="449.70" x2="448.42" y2="451.30"/>
<line x1="460.13" y1="449.70" x2="460.13" y2="451.30"/>
<line x1="471.84" y1="449.70" x2="471.84" y2="451.30"/>
<line x1="483.56" y1="449.70" x2="483.56" y2="451.30"/>
<line x1="495.27" y1="449.70" x2="495.27" y2="451.30"/>
<line x1="506.99" y1="449.70" x2="506.99" y2="451.30"/>
<line x1="518.70" y1="449.70" x2="518.70" y2="451.30"/>
<line x1="530.41" y1="449.70" x2="530.41" y2="451.30"/>
<line x1="542.13" y1="449.70" x2="542.13" y2="451.30"/>
<line x1="553.84" y1="449.70" x2="553.84" y2="451.30"/>
<line x1="565.56" y1="449.70" x2="565.56" y2="451.30"/>
<line x1="577.27" y1="449.70" x2="577.27" y2="451.30"/>
<line x1="588.98" y1="449.70" x2="588.98" y2="451.30"/>
</g>
<g fill="#111" stroke="#111" stroke-width="0.18" font-size="8.0" text-anchor="end" opacity="0.999">
<text x="216.60" y="282.25">Layer I [17-E]</text>
<text x="216.60" y="290.14">Layer V–VI [5-E]</text>
<text x="216.60" y="298.04">Layer V–VI [13-E]</text>
<text x="216.60" y="305.94">Layer V–VI [3-E]</text>
<text x="216.60" y="313.83">Layer V–VI [7-E]</text>
<text x="216.60" y="321.73">Layer V–VI [2-E]</text>
<text x="216.60" y="329.62">SVZ1 (migrating) [4-E]</text>
<text x="216.60" y="337.51">SVZ2 (migrating) [11-E]</text>
<text x="216.60" y="345.41">SVZ3 (proliferating) [15-E]</text>
<text x="216.60" y="353.31">RG1 [8-E]</text>
<text x="216.60" y="361.20">RG2 [14-E]</text>
<text x="216.60" y="369.10">RG3 (cortical hem) [21-E]</text>
<text x="216.60" y="376.99">RG4 [10-E]</text>
<text x="216.60" y="384.88">Ganglionic eminences [6-E]</text>
<text x="216.60" y="392.78" font-weight="bold">Int1 [1-E]</text>
<text x="216.60" y="400.68" font-weight="bold">Int2 [12-E]</text>
<text x="216.60" y="408.57" font-weight="bold">Striatal inh1 [16-E]</text>
<text x="216.60" y="416.47" font-weight="bold">Striatal inh2 [9-E]</text>
<text x="216.60" y="424.36" font-weight="bold">Thalamic [19-E]</text>
<text x="216.60" y="432.25">Choroid plexus [22-E]</text>
<text x="216.60" y="440.15">Microglia [20-E]</text>
<text x="216.60" y="448.04">Endothelial  [18-E]</text>
</g>
<g fill="#111" stroke="#111" stroke-width="0.22" font-size="8.0" font-style="italic" text-anchor="end" opacity="0.999">
<text transform="translate(225.55 454.80) rotate(-45)">Dlx1</text>
<text transform="translate(237.26 454.80) rotate(-45)">Dlx2</text>
<text transform="translate(248.98 454.80) rotate(-45)">Gad1</text>
<text transform="translate(260.69 454.80) rotate(-45)">Gad2</text>
<text transform="translate(272.41 454.80) rotate(-45)">Lhx6</text>
<text transform="translate(284.12 454.80) rotate(-45)">Nxph1</text>
<text transform="translate(295.83 454.80) rotate(-45)">Maf</text>
<text transform="translate(307.55 454.80) rotate(-45)">Npy</text>
<text transform="translate(319.26 454.80) rotate(-45)">Sst</text>
<text transform="translate(330.98 454.80) rotate(-45)">Erbb4</text>
<text transform="translate(342.69 454.80) rotate(-45)">Pnoc</text>
<text transform="translate(354.40 454.80) rotate(-45)">Resp18</text>
<text transform="translate(366.12 454.80) rotate(-45)">Ecel1</text>
<text transform="translate(377.83 454.80) rotate(-45)">Fxyd7</text>
<text transform="translate(389.55 454.80) rotate(-45)">Tmem130</text>
<text transform="translate(401.26 454.80) rotate(-45)">Snhg11</text>
<text transform="translate(412.97 454.80) rotate(-45)">Gpr88</text>
<text transform="translate(424.69 454.80) rotate(-45)">Rxrg</text>
<text transform="translate(436.40 454.80) rotate(-45)">Nexn</text>
<text transform="translate(448.12 454.80) rotate(-45)">Rarb</text>
<text transform="translate(459.83 454.80) rotate(-45)">Ebf1</text>
<text transform="translate(471.54 454.80) rotate(-45)">Isl1</text>
<text transform="translate(483.26 454.80) rotate(-45)">Syt6</text>
<text transform="translate(494.97 454.80) rotate(-45)">Zfp503</text>
<text transform="translate(506.69 454.80) rotate(-45)">Six3</text>
<text transform="translate(518.40 454.80) rotate(-45)">Gucy1a3</text>
<text transform="translate(530.11 454.80) rotate(-45)">Tcf7l2</text>
<text transform="translate(541.83 454.80) rotate(-45)">Shox2</text>
<text transform="translate(553.54 454.80) rotate(-45)">Syt13</text>
<text transform="translate(565.26 454.80) rotate(-45)">Lhx9</text>
<text transform="translate(576.97 454.80) rotate(-45)">Rora</text>
<text transform="translate(588.68 454.80) rotate(-45)">Ntng1</text>
</g>
<g>
<circle cx="225.85" cy="279.50" r="1.35" fill="#8412d8" opacity="1"/>
<circle cx="237.56" cy="279.50" r="0.95" fill="#1616ff" opacity="1"/>
<circle cx="249.28" cy="279.50" r="0.95" fill="#8412d8" opacity="1"/>
<circle cx="260.99" cy="279.50" r="1.35" fill="#8412d8" opacity="1"/>
<circle cx="272.71" cy="279.50" r="0.3" fill="#ccc"/>
<circle cx="284.42" cy="279.50" r="0.95" fill="#1616ff" opacity="1"/>
<circle cx="296.13" cy="279.50" r="0.95" fill="#a810b4" opacity="1"/>
<circle cx="307.85" cy="279.50" r="0.95" fill="#1616ff" opacity="1"/>
<circle cx="319.56" cy="279.50" r="0.62" fill="#8412d8" opacity="0.9"/>
<circle cx="331.28" cy="279.50" r="0.62" fill="#1616ff" opacity="0.9"/>
<circle cx="342.99" cy="279.50" r="0.62" fill="#8412d8" opacity="0.9"/>
<circle cx="354.70" cy="279.50" r="0.95" fill="#8412d8" opacity="1"/>
<circle cx="366.42" cy="279.50" r="0.95" fill="#5214f0" opacity="1"/>
<circle cx="378.13" cy="279.50" r="0.62" fill="#5214f0" opacity="0.9"/>
<circle cx="389.85" cy="279.50" r="1.75" fill="#5214f0" opacity="1"/>
<circle cx="401.56" cy="279.50" r="2.6" fill="#ff0505" opacity="1"/>
<circle cx="413.27" cy="279.50" r="0.95" fill="#5214f0" opacity="1"/>
<circle cx="424.99" cy="279.50" r="0.62" fill="#5214f0" opacity="0.9"/>
<circle cx="436.70" cy="279.50" r="0.62" fill="#1616ff" opacity="0.9"/>
<circle cx="448.42" cy="279.50" r="0.3" fill="#ccc"/>
<circle cx="460.13" cy="279.50" r="1.75" fill="#5214f0" opacity="1"/>
<circle cx="471.84" cy="279.50" r="0.62" fill="#a810b4" opacity="0.9"/>
<circle cx="483.56" cy="279.50" r="0.95" fill="#5214f0" opacity="1"/>
<circle cx="495.27" cy="279.50" r="1.75" fill="#5214f0" opacity="1"/>
<circle cx="506.99" cy="279.50" r="0.62" fill="#c20e90" opacity="0.9"/>
<circle cx="518.70" cy="279.50" r="0.62" fill="#8412d8" opacity="0.9"/>
<circle cx="530.41" cy="279.50" r="0.95" fill="#1616ff" opacity="1"/>
<circle cx="542.13" cy="279.50" r="0.3" fill="#ccc"/>
<circle cx="553.84" cy="279.50" r="0.62" fill="#1616ff" opacity="0.9"/>
<circle cx="565.56" cy="279.50" r="2.2" fill="#a810b4" opacity="1"/>
<circle cx="577.27" cy="279.50" r="0.95" fill="#8412d8" opacity="1"/>
<circle cx="588.98" cy="279.50" r="0.95" fill="#5214f0" opacity="1"/>
<circle cx="225.85" cy="287.39" r="0.95" fill="#8412d8" opacity="1"/>
<circle cx="237.56" cy="287.39" r="0.95" fill="#5214f0" opacity="1"/>
<circle cx="249.28" cy="287.39" r="0.62" fill="#5214f0" opacity="0.9"/>
<circle cx="260.99" cy="287.39" r="1.35" fill="#8412d8" opacity="1"/>
<circle cx="272.71" cy="287.39" r="0.62" fill="#8412d8" opacity="0.9"/>
<circle cx="284.42" cy="287.39" r="0.62" fill="#5214f0" opacity="0.9"/>
<circle cx="296.13" cy="287.39" r="0.62" fill="#5214f0" opacity="0.9"/>
<circle cx="307.85" cy="287.39" r="0.95" fill="#8412d8" opacity="1"/>
<circle cx="319.56" cy="287.39" r="0.95" fill="#8412d8" opacity="1"/>
<circle cx="331.28" cy="287.39" r="0.62" fill="#5214f0" opacity="0.9"/>
<circle cx="342.99" cy="287.39" r="0.3" fill="#ccc"/>
<circle cx="354.70" cy="287.39" r="0.62" fill="#8412d8" opacity="0.9"/>
<circle cx="366.42" cy="287.39" r="0.62" fill="#1616ff" opacity="0.9"/>
<circle cx="378.13" cy="287.39" r="0.62" fill="#5214f0" opacity="0.9"/>
<circle cx="389.85" cy="287.39" r="0.95" fill="#1616ff" opacity="1"/>
<circle cx="401.56" cy="287.39" r="0.95" fill="#5214f0" opacity="1"/>
<circle cx="413.27" cy="287.39" r="0.62" fill="#1616ff" opacity="0.9"/>
<circle cx="424.99" cy="287.39" r="0.62" fill="#1616ff" opacity="0.9"/>
<circle cx="436.70" cy="287.39" r="0.62" fill="#1616ff" opacity="0.9"/>
<circle cx="448.42" cy="287.39" r="0.62" fill="#1616ff" opacity="0.9"/>
<circle cx="460.13" cy="287.39" r="0.62" fill="#5214f0" opacity="0.9"/>
<circle cx="471.84" cy="287.39" r="0.62" fill="#5214f0" opacity="0.9"/>
<circle cx="483.56" cy="287.39" r="1.35" fill="#8412d8" opacity="1"/>
<circle cx="495.27" cy="287.39" r="0.62" fill="#5214f0" opacity="0.9"/>
<circle cx="506.99" cy="287.39" r="0.62" fill="#1616ff" opacity="0.9"/>
<circle cx="518.70" cy="287.39" r="1.35" fill="#a810b4" opacity="1"/>
<circle cx="530.41" cy="287.39" r="0.62" fill="#1616ff" opacity="0.9"/>
<circle cx="542.13" cy="287.39" r="0.3" fill="#ccc"/>
<circle cx="553.84" cy="287.39" r="0.62" fill="#1616ff" opacity="0.9"/>
<circle cx="565.56" cy="287.39" r="1.35" fill="#8412d8" opacity="1"/>
<circle cx="577.27" cy="287.39" r="0.62" fill="#1616ff" opacity="0.9"/>
<circle cx="588.98" cy="287.39" r="0.62" fill="#8412d8" opacity="0.9"/>
<circle cx="225.85" cy="295.29" r="0.95" fill="#5214f0" opacity="1"/>
<circle cx="237.56" cy="295.29" r="0.95" fill="#1616ff" opacity="1"/>
<circle cx="249.28" cy="295.29" r="0.62" fill="#1616ff" opacity="0.9"/>
<circle cx="260.99" cy="295.29" r="0.95" fill="#5214f0" opacity="1"/>
<circle cx="272.71" cy="295.29" r="0.62" fill="#1616ff" opacity="0.9"/>
<circle cx="284.42" cy="295.29" r="0.62" fill="#1616ff" opacity="0.9"/>
<circle cx="296.13" cy="295.29" r="0.62" fill="#5214f0" opacity="0.9"/>
<circle cx="307.85" cy="295.29" r="1.35" fill="#ff0505" opacity="1"/>
<circle cx="319.56" cy="295.29" r="0.95" fill="#1616ff" opacity="1"/>
<circle cx="331.28" cy="295.29" r="0.62" fill="#1616ff" opacity="0.9"/>
<circle cx="342.99" cy="295.29" r="0.62" fill="#1616ff" opacity="0.9"/>
<circle cx="354.70" cy="295.29" r="0.62" fill="#8412d8" opacity="0.9"/>
<circle cx="366.42" cy="295.29" r="0.62" fill="#1616ff" opacity="0.9"/>
<circle cx="378.13" cy="295.29" r="1.75" fill="#5214f0" opacity="1"/>
<circle cx="389.85" cy="295.29" r="1.75" fill="#5214f0" opacity="1"/>
<circle cx="401.56" cy="295.29" r="0.95" fill="#5214f0" opacity="1"/>
<circle cx="413.27" cy="295.29" r="0.62" fill="#8412d8" opacity="0.9"/>
<circle cx="424.99" cy="295.29" r="0.62" fill="#8412d8" opacity="0.9"/>
<circle cx="436.70" cy="295.29" r="0.62" fill="#1616ff" opacity="0.9"/>
<circle cx="448.42" cy="295.29" r="0.3" fill="#ccc"/>
<circle cx="460.13" cy="295.29" r="0.62" fill="#a810b4" opacity="0.9"/>
<circle cx="471.84" cy="295.29" r="0.62" fill="#a810b4" opacity="0.9"/>
<circle cx="483.56" cy="295.29" r="1.75" fill="#8412d8" opacity="1"/>
<circle cx="495.27" cy="295.29" r="0.62" fill="#8412d8" opacity="0.9"/>
<circle cx="506.99" cy="295.29" r="0.62" fill="#1616ff" opacity="0.9"/>
<circle cx="518.70" cy="295.29" r="1.35" fill="#a810b4" opacity="1"/>
<circle cx="530.41" cy="295.29" r="0.62" fill="#1616ff" opacity="0.9"/>
<circle cx="542.13" cy="295.29" r="0.62" fill="#1616ff" opacity="0.9"/>
<circle cx="553.84" cy="295.29" r="0.62" fill="#1616ff" opacity="0.9"/>
<circle cx="565.56" cy="295.29" r="0.95" fill="#5214f0" opacity="1"/>
<circle cx="577.27" cy="295.29" r="0.62" fill="#1616ff" opacity="0.9"/>
<circle cx="588.98" cy="295.29" r="0.62" fill="#a810b4" opacity="0.9"/>
<circle cx="225.85" cy="303.19" r="0.95" fill="#8412d8" opacity="1"/>
<circle cx="237.56" cy="303.19" r="0.95" fill="#8412d8" opacity="1"/>
<circle cx="249.28" cy="303.19" r="0.62" fill="#8412d8" opacity="0.9"/>
<circle cx="260.99" cy="303.19" r="0.95" fill="#8412d8" opacity="1"/>
<circle cx="272.71" cy="303.19" r="0.62" fill="#8412d8" opacity="0.9"/>
<circle cx="284.42" cy="303.19" r="0.62" fill="#8412d8" opacity="0.9"/>
<circle cx="296.13" cy="303.19" r="0.62" fill="#8412d8" opacity="0.9"/>
<circle cx="307.85" cy="303.19" r="0.95" fill="#8412d8" opacity="1"/>
<circle cx="319.56" cy="303.19" r="0.95" fill="#8412d8" opacity="1"/>
<circle cx="331.28" cy="303.19" r="0.62" fill="#8412d8" opacity="0.9"/>
<circle cx="342.99" cy="303.19" r="0.62" fill="#5214f0" opacity="0.9"/>
<circle cx="354.70" cy="303.19" r="0.62" fill="#5214f0" opacity="0.9"/>
<circle cx="366.42" cy="303.19" r="0.62" fill="#1616ff" opacity="0.9"/>
<circle cx="378.13" cy="303.19" r="0.62" fill="#1616ff" opacity="0.9"/>
<circle cx="389.85" cy="303.19" r="0.62" fill="#5214f0" opacity="0.9"/>
<circle cx="401.56" cy="303.19" r="0.95" fill="#1616ff" opacity="1"/>
<circle cx="413.27" cy="303.19" r="0.62" fill="#1616ff" opacity="0.9"/>
<circle cx="424.99" cy="303.19" r="0.62" fill="#a810b4" opacity="0.9"/>
<circle cx="436.70" cy="303.19" r="0.62" fill="#5214f0" opacity="0.9"/>
<circle cx="448.42" cy="303.19" r="0.62" fill="#1616ff" opacity="0.9"/>
<circle cx="460.13" cy="303.19" r="0.62" fill="#8412d8" opacity="0.9"/>
<circle cx="471.84" cy="303.19" r="0.62" fill="#5214f0" opacity="0.9"/>
<circle cx="483.56" cy="303.19" r="0.62" fill="#1616ff" opacity="0.9"/>
<circle cx="495.27" cy="303.19" r="0.62" fill="#8412d8" opacity="0.9"/>
<circle cx="506.99" cy="303.19" r="0.62" fill="#a810b4" opacity="0.9"/>
<circle cx="518.70" cy="303.19" r="0.95" fill="#8412d8" opacity="1"/>
<circle cx="530.41" cy="303.19" r="0.95" fill="#5214f0" opacity="1"/>
<circle cx="542.13" cy="303.19" r="0.62" fill="#c20e90" opacity="0.9"/>
<circle cx="553.84" cy="303.19" r="0.62" fill="#1616ff" opacity="0.9"/>
<circle cx="565.56" cy="303.19" r="0.95" fill="#5214f0" opacity="1"/>
<circle cx="577.27" cy="303.19" r="0.62" fill="#5214f0" opacity="0.9"/>
<circle cx="588.98" cy="303.19" r="0.62" fill="#5214f0" opacity="0.9"/>
<circle cx="225.85" cy="311.08" r="0.95" fill="#8412d8" opacity="1"/>
<circle cx="237.56" cy="311.08" r="0.95" fill="#8412d8" opacity="1"/>
<circle cx="249.28" cy="311.08" r="0.62" fill="#5214f0" opacity="0.9"/>
<circle cx="260.99" cy="311.08" r="1.35" fill="#8412d8" opacity="1"/>
<circle cx="272.71" cy="311.08" r="0.62" fill="#5214f0" opacity="0.9"/>
<circle cx="284.42" cy="311.08" r="0.62" fill="#5214f0" opacity="0.9"/>
<circle cx="296.13" cy="311.08" r="0.62" fill="#a810b4" opacity="0.9"/>
<circle cx="307.85" cy="311.08" r="0.95" fill="#8412d8" opacity="1"/>
<circle cx="319.56" cy="311.08" r="0.62" fill="#8412d8" opacity="0.9"/>
<circle cx="331.28" cy="311.08" r="0.62" fill="#5214f0" opacity="0.9"/>
<circle cx="342.99" cy="311.08" r="0.62" fill="#5214f0" opacity="0.9"/>
<circle cx="354.70" cy="311.08" r="0.62" fill="#5214f0" opacity="0.9"/>
<circle cx="366.42" cy="311.08" r="0.62" fill="#1616ff" opacity="0.9"/>
<circle cx="378.13" cy="311.08" r="0.95" fill="#8412d8" opacity="1"/>
<circle cx="389.85" cy="311.08" r="1.35" fill="#8412d8" opacity="1"/>
<circle cx="401.56" cy="311.08" r="1.35" fill="#a810b4" opacity="1"/>
<circle cx="413.27" cy="311.08" r="0.62" fill="#5214f0" opacity="0.9"/>
<circle cx="424.99" cy="311.08" r="0.62" fill="#1616ff" opacity="0.9"/>
<circle cx="436.70" cy="311.08" r="0.62" fill="#1616ff" opacity="0.9"/>
<circle cx="448.42" cy="311.08" r="0.62" fill="#1616ff" opacity="0.9"/>
<circle cx="460.13" cy="311.08" r="1.35" fill="#8412d8" opacity="1"/>
<circle cx="471.84" cy="311.08" r="0.62" fill="#5214f0" opacity="0.9"/>
<circle cx="483.56" cy="311.08" r="0.62" fill="#8412d8" opacity="0.9"/>
<circle cx="495.27" cy="311.08" r="0.62" fill="#5214f0" opacity="0.9"/>
<circle cx="506.99" cy="311.08" r="0.62" fill="#8412d8" opacity="0.9"/>
<circle cx="518.70" cy="311.08" r="0.95" fill="#5214f0" opacity="1"/>
<circle cx="530.41" cy="311.08" r="0.95" fill="#5214f0" opacity="1"/>
<circle cx="542.13" cy="311.08" r="0.3" fill="#ccc"/>
<circle cx="553.84" cy="311.08" r="0.62" fill="#1616ff" opacity="0.9"/>
<circle cx="565.56" cy="311.08" r="0.95" fill="#8412d8" opacity="1"/>
<circle cx="577.27" cy="311.08" r="0.62" fill="#8412d8" opacity="0.9"/>
<circle cx="588.98" cy="311.08" r="0.95" fill="#8412d8" opacity="1"/>
<circle cx="225.85" cy="318.98" r="1.35" fill="#8412d8" opacity="1"/>
<circle cx="237.56" cy="318.98" r="1.35" fill="#5214f0" opacity="1"/>
<circle cx="249.28" cy="318.98" r="0.95" fill="#5214f0" opacity="1"/>
<circle cx="260.99" cy="318.98" r="1.35" fill="#8412d8" opacity="1"/>
<circle cx="272.71" cy="318.98" r="0.95" fill="#8412d8" opacity="1"/>
<circle cx="284.42" cy="318.98" r="0.95" fill="#8412d8" opacity="1"/>
<circle cx="296.13" cy="318.98" r="0.95" fill="#8412d8" opacity="1"/>
<circle cx="307.85" cy="318.98" r="0.95" fill="#c20e90" opacity="1"/>
<circle cx="319.56" cy="318.98" r="0.95" fill="#ff0505" opacity="1"/>
<circle cx="331.28" cy="318.98" r="0.62" fill="#5214f0" opacity="0.9"/>
<circle cx="342.99" cy="318.98" r="0.62" fill="#5214f0" opacity="0.9"/>
<circle cx="354.70" cy="318.98" r="0.62" fill="#5214f0" opacity="0.9"/>
<circle cx="366.42" cy="318.98" r="0.62" fill="#5214f0" opacity="0.9"/>
<circle cx="378.13" cy="318.98" r="0.95" fill="#5214f0" opacity="1"/>
<circle cx="389.85" cy="318.98" r="0.95" fill="#5214f0" opacity="1"/>
<circle cx="401.56" cy="318.98" r="0.62" fill="#a810b4" opacity="0.9"/>
<circle cx="413.27" cy="318.98" r="0.62" fill="#8412d8" opacity="0.9"/>
<circle cx="424.99" cy="318.98" r="0.95" fill="#8412d8" opacity="1"/>
<circle cx="436.70" cy="318.98" r="0.62" fill="#5214f0" opacity="0.9"/>
<circle cx="448.42" cy="318.98" r="0.62" fill="#8412d8" opacity="0.9"/>
<circle cx="460.13" cy="318.98" r="0.95" fill="#a810b4" opacity="1"/>
<circle cx="471.84" cy="318.98" r="0.95" fill="#8412d8" opacity="1"/>
<circle cx="483.56" cy="318.98" r="0.95" fill="#5214f0" opacity="1"/>
<circle cx="495.27" cy="318.98" r="0.62" fill="#5214f0" opacity="0.9"/>
<circle cx="506.99" cy="318.98" r="0.95" fill="#5214f0" opacity="1"/>
<circle cx="518.70" cy="318.98" r="0.95" fill="#8412d8" opacity="1"/>
<circle cx="530.41" cy="318.98" r="0.95" fill="#a810b4" opacity="1"/>
<circle cx="542.13" cy="318.98" r="0.3" fill="#ccc"/>
<circle cx="553.84" cy="318.98" r="0.62" fill="#5214f0" opacity="0.9"/>
<circle cx="565.56" cy="318.98" r="0.62" fill="#8412d8" opacity="0.9"/>
<circle cx="577.27" cy="318.98" r="0.62" fill="#5214f0" opacity="0.9"/>
<circle cx="588.98" cy="318.98" r="0.62" fill="#5214f0" opacity="0.9"/>
<rect x="225.15" y="325.17" width="1.4" height="3.4" fill="#5214f0" opacity="0.9"/>
<rect x="237.31" y="325.17" width="0.5" height="3.4" fill="#8412d8" opacity="0.35"/>
<rect x="249.03" y="325.17" width="0.5" height="3.4" fill="#a810b4" opacity="0.35"/>
<rect x="260.29" y="325.17" width="1.4" height="3.4" fill="#5214f0" opacity="0.9"/>
<rect x="272.46" y="325.17" width="0.5" height="3.4" fill="#1616ff" opacity="0.35"/>
<rect x="284.17" y="325.17" width="0.5" height="3.4" fill="#1616ff" opacity="0.35"/>
<rect x="295.88" y="325.17" width="0.5" height="3.4" fill="#1616ff" opacity="0.35"/>
<rect x="307.60" y="325.17" width="0.5" height="3.4" fill="#5214f0" opacity="0.35"/>
<rect x="319.16" y="325.17" width="0.8" height="3.4" fill="#5214f0" opacity="0.6"/>
<rect x="331.03" y="325.17" width="0.5" height="3.4" fill="#5214f0" opacity="0.35"/>
<rect x="342.74" y="325.17" width="0.5" height="3.4" fill="#1616ff" opacity="0.35"/>
<rect x="354.45" y="325.17" width="0.5" height="3.4" fill="#5214f0" opacity="0.35"/>
<rect x="366.17" y="325.17" width="0.5" height="3.4" fill="#5214f0" opacity="0.35"/>
<rect x="377.88" y="325.17" width="0.5" height="3.4" fill="#1616ff" opacity="0.35"/>
<rect x="389.45" y="325.17" width="0.8" height="3.4" fill="#5214f0" opacity="0.6"/>
<rect x="401.16" y="325.17" width="0.8" height="3.4" fill="#5214f0" opacity="0.6"/>
<rect x="413.02" y="325.17" width="0.5" height="3.4" fill="#5214f0" opacity="0.35"/>
<rect x="424.74" y="325.17" width="0.5" height="3.4" fill="#8412d8" opacity="0.35"/>
<rect x="436.45" y="325.17" width="0.5" height="3.4" fill="#5214f0" opacity="0.35"/>
<rect x="448.17" y="325.17" width="0.5" height="3.4" fill="#5214f0" opacity="0.35"/>
<rect x="459.43" y="325.17" width="1.4" height="3.4" fill="#5214f0" opacity="0.9"/>
<rect x="471.44" y="325.17" width="0.8" height="3.4" fill="#5214f0" opacity="0.6"/>
<rect x="483.16" y="325.17" width="0.8" height="3.4" fill="#5214f0" opacity="0.6"/>
<rect x="495.02" y="325.17" width="0.5" height="3.4" fill="#5214f0" opacity="0.35"/>
<rect x="506.74" y="325.17" width="0.5" height="3.4" fill="#a810b4" opacity="0.35"/>
<rect x="518.30" y="325.17" width="0.8" height="3.4" fill="#5214f0" opacity="0.6"/>
<rect x="529.71" y="325.17" width="1.4" height="3.4" fill="#5214f0" opacity="0.9"/>
<rect x="541.88" y="325.17" width="0.5" height="3.4" fill="#1616ff" opacity="0.35"/>
<rect x="553.59" y="325.17" width="0.5" height="3.4" fill="#1616ff" opacity="0.35"/>
<rect x="564.46" y="325.17" width="2.2" height="3.4" fill="#5214f0" opacity="1"/>
<rect x="577.02" y="325.17" width="0.5" height="3.4" fill="#5214f0" opacity="0.35"/>
<rect x="588.73" y="325.17" width="0.5" height="3.4" fill="#1616ff" opacity="0.35"/>
<circle cx="225.85" cy="334.76" r="0.95" fill="#5214f0" opacity="1"/>
<circle cx="237.56" cy="334.76" r="0.62" fill="#5214f0" opacity="0.9"/>
<circle cx="249.28" cy="334.76" r="0.62" fill="#5214f0" opacity="0.9"/>
<circle cx="260.99" cy="334.76" r="0.95" fill="#8412d8" opacity="1"/>
<circle cx="272.71" cy="334.76" r="0.62" fill="#5214f0" opacity="0.9"/>
<circle cx="284.42" cy="334.76" r="0.62" fill="#5214f0" opacity="0.9"/>
<circle cx="296.13" cy="334.76" r="0.95" fill="#8412d8" opacity="1"/>
<circle cx="307.85" cy="334.76" r="0.95" fill="#8412d8" opacity="1"/>
<circle cx="319.56" cy="334.76" r="0.62" fill="#8412d8" opacity="0.9"/>
<circle cx="331.28" cy="334.76" r="0.62" fill="#5214f0" opacity="0.9"/>
<circle cx="342.99" cy="334.76" r="0.62" fill="#1616ff" opacity="0.9"/>
<circle cx="354.70" cy="334.76" r="0.62" fill="#1616ff" opacity="0.9"/>
<circle cx="366.42" cy="334.76" r="0.62" fill="#1616ff" opacity="0.9"/>
<circle cx="378.13" cy="334.76" r="0.62" fill="#5214f0" opacity="0.9"/>
<circle cx="389.85" cy="334.76" r="0.62" fill="#a810b4" opacity="0.9"/>
<circle cx="401.56" cy="334.76" r="0.95" fill="#5214f0" opacity="1"/>
<circle cx="413.27" cy="334.76" r="0.62" fill="#a810b4" opacity="0.9"/>
<circle cx="424.99" cy="334.76" r="0.62" fill="#5214f0" opacity="0.9"/>
<circle cx="436.70" cy="334.76" r="0.62" fill="#8412d8" opacity="0.9"/>
<circle cx="448.42" cy="334.76" r="0.62" fill="#5214f0" opacity="0.9"/>
<circle cx="460.13" cy="334.76" r="0.95" fill="#5214f0" opacity="1"/>
<circle cx="471.84" cy="334.76" r="0.62" fill="#8412d8" opacity="0.9"/>
<circle cx="483.56" cy="334.76" r="0.62" fill="#5214f0" opacity="0.9"/>
<circle cx="495.27" cy="334.76" r="0.62" fill="#5214f0" opacity="0.9"/>
<circle cx="506.99" cy="334.76" r="0.62" fill="#1616ff" opacity="0.9"/>
<circle cx="518.70" cy="334.76" r="0.95" fill="#1616ff" opacity="1"/>
<circle cx="530.41" cy="334.76" r="0.95" fill="#5214f0" opacity="1"/>
<circle cx="542.13" cy="334.76" r="0.62" fill="#da0c60" opacity="0.9"/>
<circle cx="553.84" cy="334.76" r="0.62" fill="#8412d8" opacity="0.9"/>
<circle cx="565.56" cy="334.76" r="1.35" fill="#5214f0" opacity="1"/>
<circle cx="577.27" cy="334.76" r="0.62" fill="#8412d8" opacity="0.9"/>
<circle cx="588.98" cy="334.76" r="0.62" fill="#1616ff" opacity="0.9"/>
<circle cx="225.85" cy="342.66" r="0.95" fill="#c20e90" opacity="1"/>
<circle cx="237.56" cy="342.66" r="0.62" fill="#a810b4" opacity="0.9"/>
<circle cx="249.28" cy="342.66" r="0.62" fill="#8412d8" opacity="0.9"/>
<circle cx="260.99" cy="342.66" r="1.35" fill="#5214f0" opacity="1"/>
<circle cx="272.71" cy="342.66" r="0.62" fill="#8412d8" opacity="0.9"/>
<circle cx="284.42" cy="342.66" r="0.62" fill="#1616ff" opacity="0.9"/>
<circle cx="296.13" cy="342.66" r="0.62" fill="#a810b4" opacity="0.9"/>
<circle cx="307.85" cy="342.66" r="0.62" fill="#1616ff" opacity="0.9"/>
<circle cx="319.56" cy="342.66" r="0.95" fill="#1616ff" opacity="1"/>
<circle cx="331.28" cy="342.66" r="0.62" fill="#1616ff" opacity="0.9"/>
<circle cx="342.99" cy="342.66" r="0.62" fill="#1616ff" opacity="0.9"/>
<circle cx="354.70" cy="342.66" r="0.3" fill="#ccc"/>
<circle cx="366.42" cy="342.66" r="0.3" fill="#ccc"/>
<circle cx="378.13" cy="342.66" r="0.62" fill="#8412d8" opacity="0.9"/>
<circle cx="389.85" cy="342.66" r="0.62" fill="#a810b4" opacity="0.9"/>
<circle cx="401.56" cy="342.66" r="0.95" fill="#1616ff" opacity="1"/>
<circle cx="413.27" cy="342.66" r="0.3" fill="#ccc"/>
<circle cx="424.99" cy="342.66" r="0.62" fill="#5214f0" opacity="0.9"/>
<circle cx="436.70" cy="342.66" r="0.62" fill="#1616ff" opacity="0.9"/>
<circle cx="448.42" cy="342.66" r="0.3" fill="#ccc"/>
<circle cx="460.13" cy="342.66" r="0.95" fill="#1616ff" opacity="1"/>
<circle cx="471.84" cy="342.66" r="0.62" fill="#1616ff" opacity="0.9"/>
<circle cx="483.56" cy="342.66" r="0.62" fill="#8412d8" opacity="0.9"/>
<circle cx="495.27" cy="342.66" r="0.62" fill="#1616ff" opacity="0.9"/>
<circle cx="506.99" cy="342.66" r="0.62" fill="#1616ff" opacity="0.9"/>
<circle cx="518.70" cy="342.66" r="0.95" fill="#5214f0" opacity="1"/>
<circle cx="530.41" cy="342.66" r="0.95" fill="#1616ff" opacity="1"/>
<circle cx="542.13" cy="342.66" r="0.3" fill="#ccc"/>
<circle cx="553.84" cy="342.66" r="0.62" fill="#8412d8" opacity="0.9"/>
<circle cx="565.56" cy="342.66" r="1.35" fill="#8412d8" opacity="1"/>
<circle cx="577.27" cy="342.66" r="0.62" fill="#5214f0" opacity="0.9"/>
<circle cx="588.98" cy="342.66" r="0.3" fill="#ccc"/>
<circle cx="225.85" cy="350.56" r="0.95" fill="#8412d8" opacity="1"/>
<circle cx="237.56" cy="350.56" r="0.62" fill="#8412d8" opacity="0.9"/>
<circle cx="249.28" cy="350.56" r="0.62" fill="#a810b4" opacity="0.9"/>
<circle cx="260.99" cy="350.56" r="0.95" fill="#8412d8" opacity="1"/>
<circle cx="272.71" cy="350.56" r="0.62" fill="#a810b4" opacity="0.9"/>
<circle cx="284.42" cy="350.56" r="0.62" fill="#8412d8" opacity="0.9"/>
<circle cx="296.13" cy="350.56" r="0.62" fill="#8412d8" opacity="0.9"/>
<circle cx="307.85" cy="350.56" r="0.62" fill="#da0c60" opacity="0.9"/>
<circle cx="319.56" cy="350.56" r="0.62" fill="#ff0505" opacity="0.9"/>
<circle cx="331.28" cy="350.56" r="0.62" fill="#1616ff" opacity="0.9"/>
<circle cx="342.99" cy="350.56" r="0.62" fill="#1616ff" opacity="0.9"/>
<circle cx="354.70" cy="350.56" r="0.62" fill="#1616ff" opacity="0.9"/>
<circle cx="366.42" cy="350.56" r="0.62" fill="#1616ff" opacity="0.9"/>
<circle cx="378.13" cy="350.56" r="0.62" fill="#5214f0" opacity="0.9"/>
<circle cx="389.85" cy="350.56" r="0.62" fill="#5214f0" opacity="0.9"/>
<circle cx="401.56" cy="350.56" r="0.95" fill="#5214f0" opacity="1"/>
<circle cx="413.27" cy="350.56" r="0.62" fill="#1616ff" opacity="0.9"/>
<circle cx="424.99" cy="350.56" r="0.62" fill="#1616ff" opacity="0.9"/>
<circle cx="436.70" cy="350.56" r="0.95" fill="#5214f0" opacity="1"/>
<circle cx="448.42" cy="350.56" r="0.62" fill="#1616ff" opacity="0.9"/>
<circle cx="460.13" cy="350.56" r="0.62" fill="#1616ff" opacity="0.9"/>
<circle cx="471.84" cy="350.56" r="0.62" fill="#1616ff" opacity="0.9"/>
<circle cx="483.56" cy="350.56" r="0.62" fill="#8412d8" opacity="0.9"/>
<circle cx="495.27" cy="350.56" r="0.62" fill="#a810b4" opacity="0.9"/>
<circle cx="506.99" cy="350.56" r="0.62" fill="#8412d8" opacity="0.9"/>
<circle cx="518.70" cy="350.56" r="0.95" fill="#a810b4" opacity="1"/>
<circle cx="530.41" cy="350.56" r="1.75" fill="#1616ff" opacity="1"/>
<circle cx="542.13" cy="350.56" r="0.3" fill="#ccc"/>
<circle cx="553.84" cy="350.56" r="0.62" fill="#5214f0" opacity="0.9"/>
<circle cx="565.56" cy="350.56" r="0.95" fill="#8412d8" opacity="1"/>
<circle cx="577.27" cy="350.56" r="0.62" fill="#5214f0" opacity="0.9"/>
<circle cx="588.98" cy="350.56" r="0.62" fill="#1616ff" opacity="0.9"/>
<circle cx="225.85" cy="358.45" r="1.35" fill="#da0c60" opacity="1"/>
<circle cx="237.56" cy="358.45" r="1.35" fill="#c20e90" opacity="1"/>
<circle cx="249.28" cy="358.45" r="0.62" fill="#a810b4" opacity="0.9"/>
<circle cx="260.99" cy="358.45" r="1.35" fill="#a810b4" opacity="1"/>
<circle cx="272.71" cy="358.45" r="0.62" fill="#5214f0" opacity="0.9"/>
<circle cx="284.42" cy="358.45" r="0.62" fill="#1616ff" opacity="0.9"/>
<circle cx="296.13" cy="358.45" r="0.62" fill="#1616ff" opacity="0.9"/>
<circle cx="307.85" cy="358.45" r="0.62" fill="#c20e90" opacity="0.9"/>
<circle cx="319.56" cy="358.45" r="0.95" fill="#1616ff" opacity="1"/>
<circle cx="331.28" cy="358.45" r="0.95" fill="#1616ff" opacity="1"/>
<circle cx="342.99" cy="358.45" r="0.62" fill="#1616ff" opacity="0.9"/>
<circle cx="354.70" cy="358.45" r="0.62" fill="#1616ff" opacity="0.9"/>
<circle cx="366.42" cy="358.45" r="0.62" fill="#1616ff" opacity="0.9"/>
<circle cx="378.13" cy="358.45" r="0.62" fill="#1616ff" opacity="0.9"/>
<circle cx="389.85" cy="358.45" r="0.62" fill="#1616ff" opacity="0.9"/>
<circle cx="401.56" cy="358.45" r="0.95" fill="#1616ff" opacity="1"/>
<circle cx="413.27" cy="358.45" r="0.3" fill="#ccc"/>
<circle cx="424.99" cy="358.45" r="0.62" fill="#1616ff" opacity="0.9"/>
<circle cx="436.70" cy="358.45" r="0.62" fill="#8412d8" opacity="0.9"/>
<circle cx="448.42" cy="358.45" r="0.62" fill="#1616ff" opacity="0.9"/>
<circle cx="460.13" cy="358.45" r="0.62" fill="#8412d8" opacity="0.9"/>
<circle cx="471.84" cy="358.45" r="0.95" fill="#8412d8" opacity="1"/>
<circle cx="483.56" cy="358.45" r="0.62" fill="#8412d8" opacity="0.9"/>
<circle cx="495.27" cy="358.45" r="0.62" fill="#5214f0" opacity="0.9"/>
<circle cx="506.99" cy="358.45" r="1.35" fill="#8412d8" opacity="1"/>
<circle cx="518.70" cy="358.45" r="0.95" fill="#5214f0" opacity="1"/>
<circle cx="530.41" cy="358.45" r="1.75" fill="#1616ff" opacity="1"/>
<circle cx="542.13" cy="358.45" r="0.62" fill="#1616ff" opacity="0.9"/>
<circle cx="553.84" cy="358.45" r="0.62" fill="#5214f0" opacity="0.9"/>
<circle cx="565.56" cy="358.45" r="0.95" fill="#5214f0" opacity="1"/>
<circle cx="577.27" cy="358.45" r="0.62" fill="#5214f0" opacity="0.9"/>
<circle cx="588.98" cy="358.45" r="0.62" fill="#1616ff" opacity="0.9"/>
<circle cx="225.85" cy="366.35" r="1.35" fill="#c20e90" opacity="1"/>
<circle cx="237.56" cy="366.35" r="0.95" fill="#c20e90" opacity="1"/>
<circle cx="249.28" cy="366.35" r="0.3" fill="#ccc"/>
<circle cx="260.99" cy="366.35" r="0.62" fill="#c20e90" opacity="0.9"/>
<circle cx="272.71" cy="366.35" r="0.3" fill="#ccc"/>
<circle cx="284.42" cy="366.35" r="0.3" fill="#ccc"/>
<circle cx="296.13" cy="366.35" r="0.62" fill="#1616ff" opacity="0.9"/>
<circle cx="307.85" cy="366.35" r="0.62" fill="#1616ff" opacity="0.9"/>
<circle cx="319.56" cy="366.35" r="0.62" fill="#1616ff" opacity="0.9"/>
<circle cx="331.28" cy="366.35" r="0.62" fill="#1616ff" opacity="0.9"/>
<circle cx="342.99" cy="366.35" r="0.3" fill="#ccc"/>
<circle cx="354.70" cy="366.35" r="0.62" fill="#1616ff" opacity="0.9"/>
<circle cx="366.42" cy="366.35" r="0.3" fill="#ccc"/>
<circle cx="378.13" cy="366.35" r="0.3" fill="#ccc"/>
<circle cx="389.85" cy="366.35" r="0.3" fill="#ccc"/>
<circle cx="401.56" cy="366.35" r="0.95" fill="#8412d8" opacity="1"/>
<circle cx="413.27" cy="366.35" r="0.3" fill="#ccc"/>
<circle cx="424.99" cy="366.35" r="0.62" fill="#1616ff" opacity="0.9"/>
<circle cx="436.70" cy="366.35" r="0.62" fill="#a810b4" opacity="0.9"/>
<circle cx="448.42" cy="366.35" r="0.62" fill="#a810b4" opacity="0.9"/>
<circle cx="460.13" cy="366.35" r="0.3" fill="#ccc"/>
<circle cx="471.84" cy="366.35" r="0.62" fill="#1616ff" opacity="0.9"/>
<circle cx="483.56" cy="366.35" r="0.62" fill="#1616ff" opacity="0.9"/>
<circle cx="495.27" cy="366.35" r="0.95" fill="#8412d8" opacity="1"/>
<circle cx="506.99" cy="366.35" r="0.95" fill="#8412d8" opacity="1"/>
<circle cx="518.70" cy="366.35" r="0.95" fill="#1616ff" opacity="1"/>
<circle cx="530.41" cy="366.35" r="1.35" fill="#8412d8" opacity="1"/>
<circle cx="542.13" cy="366.35" r="0.3" fill="#ccc"/>
<circle cx="553.84" cy="366.35" r="0.3" fill="#ccc"/>
<circle cx="565.56" cy="366.35" r="1.35" fill="#a810b4" opacity="1"/>
<circle cx="577.27" cy="366.35" r="0.62" fill="#1616ff" opacity="0.9"/>
<circle cx="588.98" cy="366.35" r="0.3" fill="#ccc"/>
<circle cx="225.85" cy="374.24" r="0.95" fill="#8412d8" opacity="1"/>
<circle cx="237.56" cy="374.24" r="0.95" fill="#8412d8" opacity="1"/>
<circle cx="249.28" cy="374.24" r="0.62" fill="#5214f0" opacity="0.9"/>
<circle cx="260.99" cy="374.24" r="0.95" fill="#8412d8" opacity="1"/>
<circle cx="272.71" cy="374.24" r="0.62" fill="#8412d8" opacity="0.9"/>
<circle cx="284.42" cy="374.24" r="0.62" fill="#5214f0" opacity="0.9"/>
<circle cx="296.13" cy="374.24" r="0.62" fill="#5214f0" opacity="0.9"/>
<circle cx="307.85" cy="374.24" r="0.62" fill="#a810b4" opacity="0.9"/>
<circle cx="319.56" cy="374.24" r="0.62" fill="#1616ff" opacity="0.9"/>
<circle cx="331.28" cy="374.24" r="0.62" fill="#5214f0" opacity="0.9"/>
<circle cx="342.99" cy="374.24" r="0.62" fill="#a810b4" opacity="0.9"/>
<circle cx="354.70" cy="374.24" r="0.62" fill="#c20e90" opacity="0.9"/>
<circle cx="366.42" cy="374.24" r="0.62" fill="#5214f0" opacity="0.9"/>
<circle cx="378.13" cy="374.24" r="0.62" fill="#5214f0" opacity="0.9"/>
<circle cx="389.85" cy="374.24" r="0.62" fill="#8412d8" opacity="0.9"/>
<circle cx="401.56" cy="374.24" r="0.62" fill="#5214f0" opacity="0.9"/>
<circle cx="413.27" cy="374.24" r="0.62" fill="#1616ff" opacity="0.9"/>
<circle cx="424.99" cy="374.24" r="0.62" fill="#5214f0" opacity="0.9"/>
<circle cx="436.70" cy="374.24" r="0.62" fill="#5214f0" opacity="0.9"/>
<circle cx="448.42" cy="374.24" r="0.62" fill="#5214f0" opacity="0.9"/>
<circle cx="460.13" cy="374.24" r="0.62" fill="#5214f0" opacity="0.9"/>
<circle cx="471.84" cy="374.24" r="0.62" fill="#8412d8" opacity="0.9"/>
<circle cx="483.56" cy="374.24" r="0.62" fill="#8412d8" opacity="0.9"/>
<circle cx="495.27" cy="374.24" r="0.62" fill="#8412d8" opacity="0.9"/>
<circle cx="506.99" cy="374.24" r="0.95" fill="#5214f0" opacity="1"/>
<circle cx="518.70" cy="374.24" r="0.62" fill="#5214f0" opacity="0.9"/>
<circle cx="530.41" cy="374.24" r="1.35" fill="#5214f0" opacity="1"/>
<circle cx="542.13" cy="374.24" r="0.3" fill="#ccc"/>
<circle cx="553.84" cy="374.24" r="0.62" fill="#5214f0" opacity="0.9"/>
<circle cx="565.56" cy="374.24" r="0.62" fill="#1616ff" opacity="0.9"/>
<circle cx="577.27" cy="374.24" r="0.62" fill="#8412d8" opacity="0.9"/>
<circle cx="588.98" cy="374.24" r="0.62" fill="#1616ff" opacity="0.9"/>
<circle cx="225.85" cy="382.13" r="3.0" fill="#ff0505" opacity="1"/>
<circle cx="237.56" cy="382.13" r="3.0" fill="#f00a30" opacity="1"/>
<circle cx="249.28" cy="382.13" r="1.35" fill="#5214f0" opacity="1"/>
<circle cx="260.99" cy="382.13" r="2.2" fill="#c20e90" opacity="1"/>
<circle cx="272.71" cy="382.13" r="0.95" fill="#a810b4" opacity="1"/>
<circle cx="284.42" cy="382.13" r="0.62" fill="#5214f0" opacity="0.9"/>
<circle cx="296.13" cy="382.13" r="0.62" fill="#5214f0" opacity="0.9"/>
<circle cx="307.85" cy="382.13" r="0.62" fill="#c20e90" opacity="0.9"/>
<circle cx="319.56" cy="382.13" r="0.62" fill="#1616ff" opacity="0.9"/>
<circle cx="331.28" cy="382.13" r="0.95" fill="#5214f0" opacity="1"/>
<circle cx="342.99" cy="382.13" r="0.62" fill="#8412d8" opacity="0.9"/>
<circle cx="354.70" cy="382.13" r="0.62" fill="#5214f0" opacity="0.9"/>
<circle cx="366.42" cy="382.13" r="0.62" fill="#5214f0" opacity="0.9"/>
<circle cx="378.13" cy="382.13" r="0.62" fill="#8412d8" opacity="0.9"/>
<circle cx="389.85" cy="382.13" r="0.62" fill="#5214f0" opacity="0.9"/>
<circle cx="401.56" cy="382.13" r="0.95" fill="#1616ff" opacity="1"/>
<circle cx="413.27" cy="382.13" r="0.62" fill="#5214f0" opacity="0.9"/>
<circle cx="424.99" cy="382.13" r="0.62" fill="#5214f0" opacity="0.9"/>
<circle cx="436.70" cy="382.13" r="0.62" fill="#8412d8" opacity="0.9"/>
<circle cx="448.42" cy="382.13" r="0.62" fill="#8412d8" opacity="0.9"/>
<circle cx="460.13" cy="382.13" r="0.62" fill="#5214f0" opacity="0.9"/>
<circle cx="471.84" cy="382.13" r="1.35" fill="#a810b4" opacity="1"/>
<circle cx="483.56" cy="382.13" r="0.95" fill="#5214f0" opacity="1"/>
<circle cx="495.27" cy="382.13" r="0.95" fill="#8412d8" opacity="1"/>
<circle cx="506.99" cy="382.13" r="1.75" fill="#8412d8" opacity="1"/>
<circle cx="518.70" cy="382.13" r="1.75" fill="#8412d8" opacity="1"/>
<circle cx="530.41" cy="382.13" r="0.95" fill="#5214f0" opacity="1"/>
<circle cx="542.13" cy="382.13" r="0.3" fill="#ccc"/>
<circle cx="553.84" cy="382.13" r="0.62" fill="#1616ff" opacity="0.9"/>
<circle cx="565.56" cy="382.13" r="0.62" fill="#1616ff" opacity="0.9"/>
<circle cx="577.27" cy="382.13" r="0.62" fill="#5214f0" opacity="0.9"/>
<circle cx="588.98" cy="382.13" r="0.62" fill="#1616ff" opacity="0.9"/>
<circle cx="225.85" cy="390.03" r="3.0" fill="#c20e90" opacity="1"/>
<circle cx="237.56" cy="390.03" r="2.6" fill="#a810b4" opacity="1"/>
<circle cx="249.28" cy="390.03" r="2.2" fill="#8412d8" opacity="1"/>
<circle cx="260.99" cy="390.03" r="3.0" fill="#c20e90" opacity="1"/>
<circle cx="272.71" cy="390.03" r="2.2" fill="#8412d8" opacity="1"/>
<circle cx="284.42" cy="390.03" r="2.2" fill="#8412d8" opacity="1"/>
<circle cx="296.13" cy="390.03" r="2.2" fill="#a810b4" opacity="1"/>
<circle cx="307.85" cy="390.03" r="2.2" fill="#ff0505" opacity="1"/>
<circle cx="319.56" cy="390.03" r="1.75" fill="#ff0505" opacity="1"/>
<circle cx="331.28" cy="390.03" r="2.2" fill="#8412d8" opacity="1"/>
<circle cx="342.99" cy="390.03" r="0.95" fill="#8412d8" opacity="1"/>
<circle cx="354.70" cy="390.03" r="0.62" fill="#5214f0" opacity="0.9"/>
<circle cx="366.42" cy="390.03" r="0.62" fill="#5214f0" opacity="0.9"/>
<circle cx="378.13" cy="390.03" r="0.62" fill="#8412d8" opacity="0.9"/>
<circle cx="389.85" cy="390.03" r="1.35" fill="#5214f0" opacity="1"/>
<circle cx="401.56" cy="390.03" r="1.35" fill="#a810b4" opacity="1"/>
<circle cx="413.27" cy="390.03" r="0.62" fill="#5214f0" opacity="0.9"/>
<circle cx="424.99" cy="390.03" r="0.62" fill="#5214f0" opacity="0.9"/>
<circle cx="436.70" cy="390.03" r="0.62" fill="#5214f0" opacity="0.9"/>
<circle cx="448.42" cy="390.03" r="0.62" fill="#5214f0" opacity="0.9"/>
<circle cx="460.13" cy="390.03" r="0.62" fill="#5214f0" opacity="0.9"/>
<circle cx="471.84" cy="390.03" r="0.62" fill="#8412d8" opacity="0.9"/>
<circle cx="483.56" cy="390.03" r="0.95" fill="#5214f0" opacity="1"/>
<circle cx="495.27" cy="390.03" r="0.62" fill="#5214f0" opacity="0.9"/>
<circle cx="506.99" cy="390.03" r="0.62" fill="#a810b4" opacity="0.9"/>
<circle cx="518.70" cy="390.03" r="1.75" fill="#5214f0" opacity="1"/>
<circle cx="530.41" cy="390.03" r="0.62" fill="#5214f0" opacity="0.9"/>
<circle cx="542.13" cy="390.03" r="0.3" fill="#ccc"/>
<circle cx="553.84" cy="390.03" r="0.62" fill="#5214f0" opacity="0.9"/>
<circle cx="565.56" cy="390.03" r="0.62" fill="#1616ff" opacity="0.9"/>
<circle cx="577.27" cy="390.03" r="0.95" fill="#a810b4" opacity="1"/>
<circle cx="588.98" cy="390.03" r="0.62" fill="#1616ff" opacity="0.9"/>
<circle cx="225.85" cy="397.93" r="2.2" fill="#da0c60" opacity="1"/>
<circle cx="237.56" cy="397.93" r="2.2" fill="#a810b4" opacity="1"/>
<circle cx="249.28" cy="397.93" r="2.2" fill="#8412d8" opacity="1"/>
<circle cx="260.99" cy="397.93" r="2.6" fill="#c20e90" opacity="1"/>
<circle cx="272.71" cy="397.93" r="1.35" fill="#a810b4" opacity="1"/>
<circle cx="284.42" cy="397.93" r="1.35" fill="#8412d8" opacity="1"/>
<circle cx="296.13" cy="397.93" r="0.95" fill="#8412d8" opacity="1"/>
<circle cx="307.85" cy="397.93" r="0.95" fill="#ff0505" opacity="1"/>
<circle cx="319.56" cy="397.93" r="1.35" fill="#ff0505" opacity="1"/>
<circle cx="331.28" cy="397.93" r="0.95" fill="#5214f0" opacity="1"/>
<circle cx="342.99" cy="397.93" r="1.75" fill="#8412d8" opacity="1"/>
<circle cx="354.70" cy="397.93" r="2.2" fill="#8412d8" opacity="1"/>
<circle cx="366.42" cy="397.93" r="1.75" fill="#a810b4" opacity="1"/>
<circle cx="378.13" cy="397.93" r="1.75" fill="#a810b4" opacity="1"/>
<circle cx="389.85" cy="397.93" r="2.6" fill="#a810b4" opacity="1"/>
<circle cx="401.56" cy="397.93" r="3.0" fill="#ff0505" opacity="1"/>
<circle cx="413.27" cy="397.93" r="0.95" fill="#8412d8" opacity="1"/>
<circle cx="424.99" cy="397.93" r="0.95" fill="#5214f0" opacity="1"/>
<circle cx="436.70" cy="397.93" r="0.62" fill="#8412d8" opacity="0.9"/>
<circle cx="448.42" cy="397.93" r="0.62" fill="#5214f0" opacity="0.9"/>
<circle cx="460.13" cy="397.93" r="0.95" fill="#c20e90" opacity="1"/>
<circle cx="471.84" cy="397.93" r="1.75" fill="#f00a30" opacity="1"/>
<circle cx="483.56" cy="397.93" r="0.95" fill="#8412d8" opacity="1"/>
<circle cx="495.27" cy="397.93" r="0.95" fill="#5214f0" opacity="1"/>
<circle cx="506.99" cy="397.93" r="1.75" fill="#c20e90" opacity="1"/>
<circle cx="518.70" cy="397.93" r="0.95" fill="#5214f0" opacity="1"/>
<circle cx="530.41" cy="397.93" r="0.95" fill="#ff0505" opacity="1"/>
<circle cx="542.13" cy="397.93" r="0.62" fill="#5214f0" opacity="0.9"/>
<circle cx="553.84" cy="397.93" r="1.35" fill="#5214f0" opacity="1"/>
<circle cx="565.56" cy="397.93" r="1.35" fill="#a810b4" opacity="1"/>
<circle cx="577.27" cy="397.93" r="0.95" fill="#5214f0" opacity="1"/>
<circle cx="588.98" cy="397.93" r="0.95" fill="#5214f0" opacity="1"/>
<circle cx="225.85" cy="405.82" r="1.75" fill="#a810b4" opacity="1"/>
<circle cx="237.56" cy="405.82" r="1.35" fill="#8412d8" opacity="1"/>
<circle cx="249.28" cy="405.82" r="1.75" fill="#5214f0" opacity="1"/>
<circle cx="260.99" cy="405.82" r="3.0" fill="#da0c60" opacity="1"/>
<circle cx="272.71" cy="405.82" r="0.62" fill="#5214f0" opacity="0.9"/>
<circle cx="284.42" cy="405.82" r="0.62" fill="#5214f0" opacity="0.9"/>
<circle cx="296.13" cy="405.82" r="0.62" fill="#5214f0" opacity="0.9"/>
<circle cx="307.85" cy="405.82" r="0.62" fill="#1616ff" opacity="0.9"/>
<circle cx="319.56" cy="405.82" r="0.62" fill="#5214f0" opacity="0.9"/>
<circle cx="331.28" cy="405.82" r="0.62" fill="#5214f0" opacity="0.9"/>
<circle cx="342.99" cy="405.82" r="0.95" fill="#8412d8" opacity="1"/>
<circle cx="354.70" cy="405.82" r="0.95" fill="#8412d8" opacity="1"/>
<circle cx="366.42" cy="405.82" r="1.75" fill="#a810b4" opacity="1"/>
<circle cx="378.13" cy="405.82" r="1.75" fill="#8412d8" opacity="1"/>
<circle cx="389.85" cy="405.82" r="1.75" fill="#8412d8" opacity="1"/>
<circle cx="401.56" cy="405.82" r="1.35" fill="#da0c60" opacity="1"/>
<circle cx="413.27" cy="405.82" r="2.2" fill="#8412d8" opacity="1"/>
<circle cx="424.99" cy="405.82" r="2.2" fill="#c20e90" opacity="1"/>
<circle cx="436.70" cy="405.82" r="1.35" fill="#da0c60" opacity="1"/>
<circle cx="448.42" cy="405.82" r="2.2" fill="#8412d8" opacity="1"/>
<circle cx="460.13" cy="405.82" r="3.3" fill="#ff0505" opacity="1"/>
<circle cx="471.84" cy="405.82" r="3.3" fill="#ff0505" opacity="1"/>
<circle cx="483.56" cy="405.82" r="2.2" fill="#8412d8" opacity="1"/>
<circle cx="495.27" cy="405.82" r="1.75" fill="#5214f0" opacity="1"/>
<circle cx="506.99" cy="405.82" r="0.95" fill="#c20e90" opacity="1"/>
<circle cx="518.70" cy="405.82" r="1.35" fill="#a810b4" opacity="1"/>
<circle cx="530.41" cy="405.82" r="0.62" fill="#5214f0" opacity="0.9"/>
<circle cx="542.13" cy="405.82" r="0.3" fill="#ccc"/>
<circle cx="553.84" cy="405.82" r="0.62" fill="#1616ff" opacity="0.9"/>
<circle cx="565.56" cy="405.82" r="0.62" fill="#1616ff" opacity="0.9"/>
<circle cx="577.27" cy="405.82" r="0.62" fill="#1616ff" opacity="0.9"/>
<circle cx="588.98" cy="405.82" r="0.62" fill="#1616ff" opacity="0.9"/>
<circle cx="225.85" cy="413.72" r="2.2" fill="#a810b4" opacity="1"/>
<circle cx="237.56" cy="413.72" r="1.75" fill="#8412d8" opacity="1"/>
<circle cx="249.28" cy="413.72" r="2.2" fill="#5214f0" opacity="1"/>
<circle cx="260.99" cy="413.72" r="3.0" fill="#da0c60" opacity="1"/>
<circle cx="272.71" cy="413.72" r="0.62" fill="#5214f0" opacity="0.9"/>
<circle cx="284.42" cy="413.72" r="0.62" fill="#8412d8" opacity="0.9"/>
<circle cx="296.13" cy="413.72" r="0.62" fill="#5214f0" opacity="0.9"/>
<circle cx="307.85" cy="413.72" r="0.62" fill="#8412d8" opacity="0.9"/>
<circle cx="319.56" cy="413.72" r="0.62" fill="#8412d8" opacity="0.9"/>
<circle cx="331.28" cy="413.72" r="0.95" fill="#8412d8" opacity="1"/>
<circle cx="342.99" cy="413.72" r="0.62" fill="#5214f0" opacity="0.9"/>
<circle cx="354.70" cy="413.72" r="0.62" fill="#5214f0" opacity="0.9"/>
<circle cx="366.42" cy="413.72" r="0.62" fill="#c20e90" opacity="0.9"/>
<circle cx="378.13" cy="413.72" r="0.95" fill="#a810b4" opacity="1"/>
<circle cx="389.85" cy="413.72" r="1.35" fill="#8412d8" opacity="1"/>
<circle cx="401.56" cy="413.72" r="1.35" fill="#a810b4" opacity="1"/>
<circle cx="413.27" cy="413.72" r="1.35" fill="#8412d8" opacity="1"/>
<circle cx="424.99" cy="413.72" r="1.35" fill="#8412d8" opacity="1"/>
<circle cx="436.70" cy="413.72" r="0.62" fill="#da0c60" opacity="0.9"/>
<circle cx="448.42" cy="413.72" r="0.95" fill="#5214f0" opacity="1"/>
<circle cx="460.13" cy="413.72" r="1.75" fill="#ff0505" opacity="1"/>
<circle cx="471.84" cy="413.72" r="2.2" fill="#c20e90" opacity="1"/>
<circle cx="483.56" cy="413.72" r="2.2" fill="#8412d8" opacity="1"/>
<circle cx="495.27" cy="413.72" r="1.75" fill="#8412d8" opacity="1"/>
<circle cx="506.99" cy="413.72" r="2.2" fill="#c20e90" opacity="1"/>
<circle cx="518.70" cy="413.72" r="2.2" fill="#c20e90" opacity="1"/>
<circle cx="530.41" cy="413.72" r="0.62" fill="#1616ff" opacity="0.9"/>
<circle cx="542.13" cy="413.72" r="0.3" fill="#ccc"/>
<circle cx="553.84" cy="413.72" r="0.62" fill="#1616ff" opacity="0.9"/>
<circle cx="565.56" cy="413.72" r="0.62" fill="#1616ff" opacity="0.9"/>
<circle cx="577.27" cy="413.72" r="0.62" fill="#a810b4" opacity="0.9"/>
<circle cx="588.98" cy="413.72" r="0.62" fill="#1616ff" opacity="0.9"/>
<circle cx="225.85" cy="421.61" r="1.35" fill="#8412d8" opacity="1"/>
<circle cx="237.56" cy="421.61" r="0.95" fill="#8412d8" opacity="1"/>
<circle cx="249.28" cy="421.61" r="0.62" fill="#a810b4" opacity="0.9"/>
<circle cx="260.99" cy="421.61" r="1.35" fill="#c20e90" opacity="1"/>
<circle cx="272.71" cy="421.61" r="0.62" fill="#a810b4" opacity="0.9"/>
<circle cx="284.42" cy="421.61" r="1.75" fill="#8412d8" opacity="1"/>
<circle cx="296.13" cy="421.61" r="0.62" fill="#1616ff" opacity="0.9"/>
<circle cx="307.85" cy="421.61" r="0.62" fill="#ff0505" opacity="0.9"/>
<circle cx="319.56" cy="421.61" r="0.95" fill="#ff0505" opacity="1"/>
<circle cx="331.28" cy="421.61" r="0.62" fill="#5214f0" opacity="0.9"/>
<circle cx="342.99" cy="421.61" r="0.95" fill="#a810b4" opacity="1"/>
<circle cx="354.70" cy="421.61" r="1.75" fill="#8412d8" opacity="1"/>
<circle cx="366.42" cy="421.61" r="0.62" fill="#da0c60" opacity="0.9"/>
<circle cx="378.13" cy="421.61" r="0.95" fill="#8412d8" opacity="1"/>
<circle cx="389.85" cy="421.61" r="2.2" fill="#8412d8" opacity="1"/>
<circle cx="401.56" cy="421.61" r="2.6" fill="#ff0505" opacity="1"/>
<circle cx="413.27" cy="421.61" r="0.62" fill="#8412d8" opacity="0.9"/>
<circle cx="424.99" cy="421.61" r="0.62" fill="#a810b4" opacity="0.9"/>
<circle cx="436.70" cy="421.61" r="0.3" fill="#ccc"/>
<circle cx="448.42" cy="421.61" r="0.3" fill="#ccc"/>
<circle cx="460.13" cy="421.61" r="1.35" fill="#c20e90" opacity="1"/>
<circle cx="471.84" cy="421.61" r="0.95" fill="#ff0505" opacity="1"/>
<circle cx="483.56" cy="421.61" r="0.95" fill="#8412d8" opacity="1"/>
<circle cx="495.27" cy="421.61" r="0.62" fill="#a810b4" opacity="0.9"/>
<circle cx="506.99" cy="421.61" r="0.95" fill="#8412d8" opacity="1"/>
<circle cx="518.70" cy="421.61" r="0.95" fill="#ff0505" opacity="1"/>
<circle cx="530.41" cy="421.61" r="3.0" fill="#ff0505" opacity="1"/>
<circle cx="542.13" cy="421.61" r="1.75" fill="#c20e90" opacity="1"/>
<circle cx="553.84" cy="421.61" r="2.6" fill="#f00a30" opacity="1"/>
<circle cx="565.56" cy="421.61" r="2.6" fill="#f00a30" opacity="1"/>
<circle cx="577.27" cy="421.61" r="2.2" fill="#da0c60" opacity="1"/>
<circle cx="588.98" cy="421.61" r="2.2" fill="#8412d8" opacity="1"/>
<circle cx="225.85" cy="429.50" r="0.3" fill="#ccc"/>
<circle cx="237.56" cy="429.50" r="0.3" fill="#ccc"/>
<circle cx="249.28" cy="429.50" r="0.62" fill="#1616ff" opacity="0.9"/>
<circle cx="260.99" cy="429.50" r="1.75" fill="#8412d8" opacity="1"/>
<circle cx="272.71" cy="429.50" r="0.3" fill="#ccc"/>
<circle cx="284.42" cy="429.50" r="0.62" fill="#5214f0" opacity="0.9"/>
<circle cx="296.13" cy="429.50" r="2.2" fill="#f00a30" opacity="1"/>
<circle cx="307.85" cy="429.50" r="0.62" fill="#1616ff" opacity="0.9"/>
<circle cx="319.56" cy="429.50" r="1.35" fill="#1616ff" opacity="1"/>
<circle cx="331.28" cy="429.50" r="1.75" fill="#1616ff" opacity="1"/>
<circle cx="342.99" cy="429.50" r="0.62" fill="#1616ff" opacity="0.9"/>
<circle cx="354.70" cy="429.50" r="0.3" fill="#ccc"/>
<circle cx="366.42" cy="429.50" r="0.3" fill="#ccc"/>
<circle cx="378.13" cy="429.50" r="0.3" fill="#ccc"/>
<circle cx="389.85" cy="429.50" r="0.3" fill="#ccc"/>
<circle cx="401.56" cy="429.50" r="1.35" fill="#1616ff" opacity="1"/>
<circle cx="413.27" cy="429.50" r="0.3" fill="#ccc"/>
<circle cx="424.99" cy="429.50" r="0.3" fill="#ccc"/>
<circle cx="436.70" cy="429.50" r="0.95" fill="#1616ff" opacity="1"/>
<circle cx="448.42" cy="429.50" r="0.3" fill="#ccc"/>
<circle cx="460.13" cy="429.50" r="0.95" fill="#1616ff" opacity="1"/>
<circle cx="471.84" cy="429.50" r="0.95" fill="#1616ff" opacity="1"/>
<circle cx="483.56" cy="429.50" r="0.95" fill="#1616ff" opacity="1"/>
<circle cx="495.27" cy="429.50" r="1.75" fill="#5214f0" opacity="1"/>
<circle cx="506.99" cy="429.50" r="2.2" fill="#8412d8" opacity="1"/>
<circle cx="518.70" cy="429.50" r="0.3" fill="#ccc"/>
<circle cx="530.41" cy="429.50" r="2.2" fill="#8412d8" opacity="1"/>
<circle cx="542.13" cy="429.50" r="0.3" fill="#ccc"/>
<circle cx="553.84" cy="429.50" r="0.95" fill="#1616ff" opacity="1"/>
<circle cx="565.56" cy="429.50" r="0.3" fill="#ccc"/>
<circle cx="577.27" cy="429.50" r="1.35" fill="#1616ff" opacity="1"/>
<circle cx="588.98" cy="429.50" r="0.3" fill="#ccc"/>
<circle cx="225.85" cy="437.40" r="0.62" fill="#f00a30" opacity="0.9"/>
<circle cx="237.56" cy="437.40" r="0.95" fill="#1616ff" opacity="1"/>
<circle cx="249.28" cy="437.40" r="0.62" fill="#1616ff" opacity="0.9"/>
<circle cx="260.99" cy="437.40" r="1.35" fill="#1616ff" opacity="1"/>
<circle cx="272.71" cy="437.40" r="0.62" fill="#1616ff" opacity="0.9"/>
<circle cx="284.42" cy="437.40" r="0.3" fill="#ccc"/>
<circle cx="296.13" cy="437.40" r="3.0" fill="#ff0505" opacity="1"/>
<circle cx="307.85" cy="437.40" r="0.3" fill="#ccc"/>
<circle cx="319.56" cy="437.40" r="0.3" fill="#ccc"/>
<circle cx="331.28" cy="437.40" r="0.62" fill="#1616ff" opacity="0.9"/>
<circle cx="342.99" cy="437.40" r="0.3" fill="#ccc"/>
<circle cx="354.70" cy="437.40" r="0.3" fill="#ccc"/>
<circle cx="366.42" cy="437.40" r="0.3" fill="#ccc"/>
<circle cx="378.13" cy="437.40" r="0.3" fill="#ccc"/>
<circle cx="389.85" cy="437.40" r="0.62" fill="#1616ff" opacity="0.9"/>
<circle cx="401.56" cy="437.40" r="0.95" fill="#1616ff" opacity="1"/>
<circle cx="413.27" cy="437.40" r="0.3" fill="#ccc"/>
<circle cx="424.99" cy="437.40" r="0.3" fill="#ccc"/>
<circle cx="436.70" cy="437.40" r="0.95" fill="#1616ff" opacity="1"/>
<circle cx="448.42" cy="437.40" r="0.3" fill="#ccc"/>
<circle cx="460.13" cy="437.40" r="0.3" fill="#ccc"/>
<circle cx="471.84" cy="437.40" r="0.3" fill="#ccc"/>
<circle cx="483.56" cy="437.40" r="0.3" fill="#ccc"/>
<circle cx="495.27" cy="437.40" r="0.3" fill="#ccc"/>
<circle cx="506.99" cy="437.40" r="0.3" fill="#ccc"/>
<circle cx="518.70" cy="437.40" r="0.3" fill="#ccc"/>
<circle cx="530.41" cy="437.40" r="0.95" fill="#1616ff" opacity="1"/>
<circle cx="542.13" cy="437.40" r="0.3" fill="#ccc"/>
<circle cx="553.84" cy="437.40" r="0.3" fill="#ccc"/>
<circle cx="565.56" cy="437.40" r="0.3" fill="#ccc"/>
<circle cx="577.27" cy="437.40" r="0.3" fill="#ccc"/>
<circle cx="588.98" cy="437.40" r="0.3" fill="#ccc"/>
<circle cx="225.85" cy="445.29" r="0.95" fill="#c20e90" opacity="1"/>
<circle cx="237.56" cy="445.29" r="0.62" fill="#a810b4" opacity="0.9"/>
<circle cx="249.28" cy="445.29" r="0.62" fill="#a810b4" opacity="0.9"/>
<circle cx="260.99" cy="445.29" r="0.95" fill="#8412d8" opacity="1"/>
<circle cx="272.71" cy="445.29" r="0.62" fill="#1616ff" opacity="0.9"/>
<circle cx="284.42" cy="445.29" r="0.62" fill="#a810b4" opacity="0.9"/>
<circle cx="296.13" cy="445.29" r="0.95" fill="#c20e90" opacity="1"/>
<circle cx="307.85" cy="445.29" r="0.95" fill="#1616ff" opacity="1"/>
<circle cx="319.56" cy="445.29" r="0.95" fill="#5214f0" opacity="1"/>
<circle cx="331.28" cy="445.29" r="0.62" fill="#5214f0" opacity="0.9"/>
<circle cx="342.99" cy="445.29" r="0.62" fill="#8412d8" opacity="0.9"/>
<circle cx="354.70" cy="445.29" r="0.3" fill="#ccc"/>
<circle cx="366.42" cy="445.29" r="0.62" fill="#1616ff" opacity="0.9"/>
<circle cx="378.13" cy="445.29" r="0.3" fill="#ccc"/>
<circle cx="389.85" cy="445.29" r="0.62" fill="#1616ff" opacity="0.9"/>
<circle cx="401.56" cy="445.29" r="0.95" fill="#8412d8" opacity="1"/>
<circle cx="413.27" cy="445.29" r="0.3" fill="#ccc"/>
<circle cx="424.99" cy="445.29" r="0.62" fill="#1616ff" opacity="0.9"/>
<circle cx="436.70" cy="445.29" r="0.62" fill="#1616ff" opacity="0.9"/>
<circle cx="448.42" cy="445.29" r="0.95" fill="#8412d8" opacity="1"/>
<circle cx="460.13" cy="445.29" r="2.6" fill="#a810b4" opacity="1"/>
<circle cx="471.84" cy="445.29" r="0.62" fill="#da0c60" opacity="0.9"/>
<circle cx="483.56" cy="445.29" r="0.3" fill="#ccc"/>
<circle cx="495.27" cy="445.29" r="0.95" fill="#5214f0" opacity="1"/>
<circle cx="506.99" cy="445.29" r="0.62" fill="#5214f0" opacity="0.9"/>
<circle cx="518.70" cy="445.29" r="2.6" fill="#f00a30" opacity="1"/>
<circle cx="530.41" cy="445.29" r="1.75" fill="#8412d8" opacity="1"/>
<circle cx="542.13" cy="445.29" r="0.3" fill="#ccc"/>
<circle cx="553.84" cy="445.29" r="0.3" fill="#ccc"/>
<circle cx="565.56" cy="445.29" r="0.62" fill="#1616ff" opacity="0.9"/>
<circle cx="577.27" cy="445.29" r="1.75" fill="#8412d8" opacity="1"/>
<circle cx="588.98" cy="445.29" r="0.3" fill="#ccc"/>
</g>
<g fill="#111" opacity="0.999">
<text x="600.4" y="335.1" font-size="5.0">percExp</text>
<text x="608.3" y="339.6" font-size="4.6">0</text>
<text x="608.3" y="345.1" font-size="4.6">25</text>
<text x="608.3" y="350.5" font-size="4.6">50</text>
<text x="608.3" y="356.3" font-size="4.6">75</text>
<text x="600.4" y="365.8" font-size="5.0">nTrans</text>
<text x="607.0" y="370.6" font-size="4.6">5</text>
<text x="607.0" y="376.0" font-size="4.6">4</text>
<text x="607.0" y="381.4" font-size="4.6">3</text>
<text x="607.0" y="386.8" font-size="4.6">2</text>
<text x="607.0" y="392.2" font-size="4.6">1</text>
</g>
<circle cx="604.2" cy="343.6" r="1.45" fill="#000"/><circle cx="604.2" cy="349.0" r="2.1" fill="#000"/><circle cx="604.2" cy="354.8" r="2.9" fill="#000"/>
<circle cx="604.2" cy="338.1" r="0.3" fill="#bbb"/>
<rect x="600.5" y="368.3" width="4.7" height="23.2" fill="url(#cb)"/>
</svg></body></html>
